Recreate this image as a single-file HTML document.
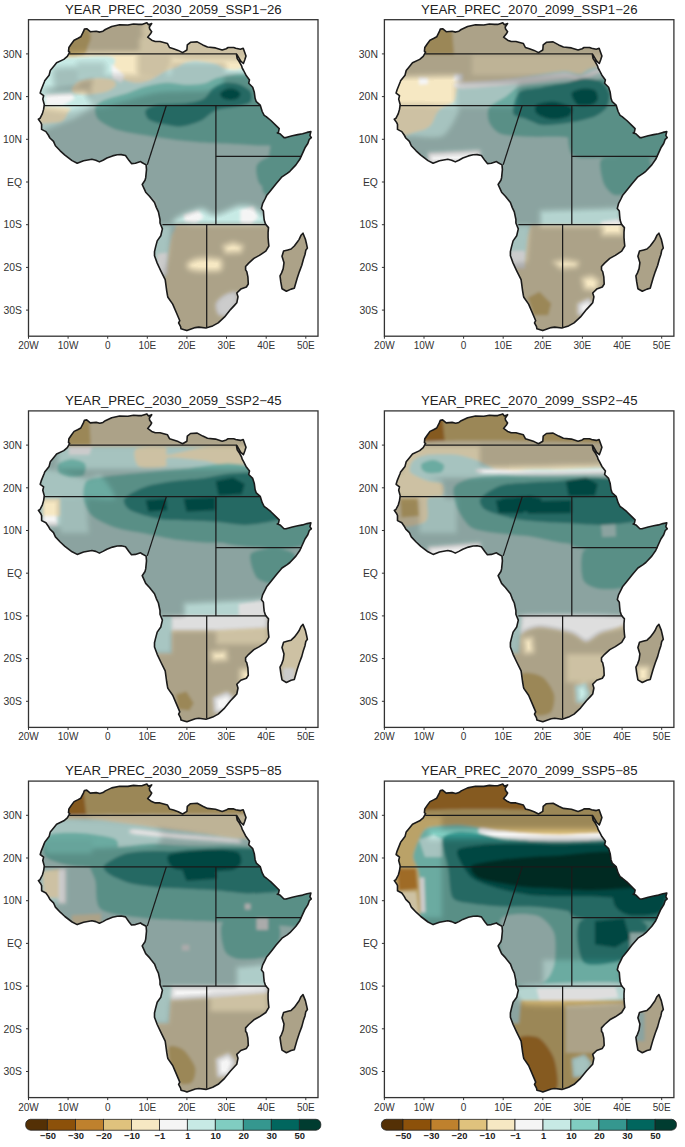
<!DOCTYPE html>
<html><head><meta charset="utf-8"><style>
html,body{margin:0;padding:0;background:#fff;}
body{width:685px;height:1147px;overflow:hidden;}
svg{display:block;font-family:"Liberation Sans",sans-serif;}
</style></head><body>
<svg width="685" height="1147" viewBox="0 0 685 1147">
<defs>
<clipPath id="land"><path d="M55.9 9.4L58.2 9.0L61.8 12.0L67.7 11.5L71.3 12.4L74.5 11.5L76.8 9.8L83.2 6.8L91.1 5.1L99.4 5.3L105.0 4.3L110.1 4.7L113.3 4.7L118.4 3.0L120.0 5.1L123.2 3.8L120.8 7.3L121.2 9.4L123.2 12.0L122.0 14.1L119.2 17.5L123.2 20.5L126.8 21.8L131.5 21.8L139.0 23.9L141.0 27.8L145.0 29.0L149.7 30.7L154.1 32.9L158.4 30.3L158.8 25.2L162.0 22.6L168.7 22.2L174.3 25.2L179.0 27.3L187.0 28.2L193.7 30.3L197.7 29.0L199.6 27.8L205.2 27.8L207.2 28.6L211.9 29.5L214.7 28.6L217.5 36.3L216.3 40.1L214.9 43.8L212.3 41.4L208.3 34.6L208.0 35.0L208.7 38.9L210.7 41.8L213.1 46.1L213.7 48.3L215.1 50.8L217.5 55.5L221.0 60.2L220.2 63.6L224.2 67.5L225.8 72.6L226.6 78.6L227.8 82.0L231.7 85.4L233.7 91.8L235.7 95.6L237.7 96.9L242.4 100.8L248.4 106.7L250.7 108.9L249.9 112.7L248.8 113.2L251.5 114.0L255.5 117.9L257.5 117.9L263.8 116.1L269.3 114.9L274.1 114.0L278.5 112.7L282.4 111.9L281.4 115.7L282.8 117.9L280.8 119.6L279.3 123.8L276.5 128.1L271.3 139.6L267.4 145.2L261.4 151.6L258.7 153.7L253.5 157.1L247.6 164.0L243.6 169.1L241.2 172.1L238.1 175.9L236.5 179.3L234.1 184.0L232.9 188.7L234.9 191.3L235.3 196.4L235.7 200.3L236.9 204.1L238.5 206.2L240.0 207.9L239.6 212.6L239.6 217.8L240.0 222.9L240.4 226.3L237.3 231.4L230.9 235.7L225.4 238.7L220.2 243.4L217.1 246.8L217.1 250.2L218.3 251.9L219.4 257.1L219.8 264.3L217.9 267.3L212.3 269.4L208.3 273.3L209.5 277.1L208.3 283.1L206.4 285.2L202.0 289.9L196.1 297.2L189.7 303.2L184.2 306.2L180.6 307.4L177.5 308.3L170.3 307.4L166.8 307.9L158.4 310.9L155.7 310.0L152.5 309.1L152.1 307.0L150.1 303.2L151.3 301.0L147.7 292.5L144.2 284.4L139.4 277.5L139.0 275.8L138.2 271.1L136.7 260.0L132.3 251.1L128.7 243.4L126.0 236.1L126.0 231.9L127.1 227.2L128.7 221.2L132.3 216.1L133.9 209.2L131.5 203.3L131.5 199.8L129.9 192.1L127.9 187.9L126.0 182.8L122.8 178.9L121.2 176.8L117.2 172.5L113.7 164.8L116.5 160.6L117.2 158.0L118.0 149.9L117.6 145.2L112.9 142.6L112.1 141.8L106.9 143.5L103.0 143.9L100.6 140.9L97.0 135.8L92.7 134.9L88.7 135.1L84.0 136.2L78.4 138.3L74.5 140.5L70.9 142.2L67.3 140.5L63.4 139.6L55.1 141.1L48.7 143.5L43.6 140.9L36.4 135.4L31.7 131.1L26.9 126.0L25.0 121.7L21.4 118.3L19.8 115.3L17.4 111.9L13.1 109.7L13.1 104.6L12.3 102.9L9.9 99.5L11.5 98.6L13.9 93.9L15.1 89.7L15.8 85.0L14.3 79.4L15.1 76.0L11.7 73.4L12.7 70.0L15.8 62.3L16.2 61.1L20.6 55.5L21.8 50.8L25.7 46.1L28.1 43.1L35.3 39.7L38.8 36.7L41.2 32.5L40.0 31.6L40.4 27.8L42.8 24.3L45.6 20.5L49.1 18.8L52.3 17.1L54.9 12.0ZM274.5 213.5L276.9 219.5L278.1 224.6L278.9 228.4L277.3 230.6L276.5 234.8L274.9 239.5L273.3 245.5L270.9 251.9L268.6 258.8L265.8 268.6L262.6 269.4L257.9 271.6L253.5 269.0L252.3 262.2L251.5 256.2L253.1 253.2L254.7 248.9L255.5 243.0L253.5 236.6L255.1 231.4L259.4 230.2L262.6 229.3L265.8 226.3L269.0 222.0L270.5 219.9L272.5 215.6Z"/></clipPath>
<pattern id="xh" width="2" height="2" patternUnits="userSpaceOnUse">
<rect x="0" y="0" width="1" height="1" fill="#1e2a28" fill-opacity="0.62"/>
<rect x="1" y="1" width="1" height="1" fill="#1e2a28" fill-opacity="0.62"/>
</pattern>
<pattern id="sh" width="3" height="3" patternUnits="userSpaceOnUse" patternTransform="rotate(-45)">
<rect x="0" y="0" width="3" height="1" fill="#2a2a2a" fill-opacity="0.55"/>
</pattern>
<filter id="bl" x="-5%" y="-5%" width="110%" height="110%"><feGaussianBlur stdDeviation="1.8"/></filter>
<filter id="bl2" x="-5%" y="-5%" width="110%" height="110%"><feGaussianBlur stdDeviation="2.5"/></filter>
</defs>
<rect width="685" height="1147" fill="#fff"/>

<g transform="translate(28.5 19.7)">
<g clip-path="url(#land)">
<rect x="0" y="0" width="289.5" height="316.5" fill="#f5f5f5"/>
<g filter="url(#bl)">
<path d="M-0.5 36.8C10.4 -1.2 70.0 35.0 81.3 36.8C92.5 38.5 82.6 47.0 84.2 49.9C85.7 52.9 89.8 56.9 92.9 58.7C96.0 60.4 103.6 62.9 107.5 63.1C111.4 63.3 118.2 61.7 122.1 60.2C126.1 58.6 133.7 53.1 137.3 51.4C140.9 49.6 146.3 48.2 149.0 47.0C151.7 45.8 155.0 43.4 157.7 42.6C160.5 41.9 165.5 41.0 169.4 41.2C173.3 41.4 183.4 43.1 186.9 44.1C190.4 45.1 193.0 47.7 195.7 48.5C198.4 49.3 204.7 50.1 207.4 49.9C210.1 49.7 212.7 47.8 216.1 47.0C219.6 46.2 226.9 44.5 233.1 44.1C239.2 43.7 258.4 7.1 262.3 44.1C266.2 81.1 297.3 284.5 262.3 321.5C227.2 358.5 34.5 359.4 -0.5 321.5C-35.5 283.5 -11.4 74.8 -0.5 36.8Z" fill="#c7eae5"/>
<path d="M-0.5 0.3C34.5 -4.6 227.2 -4.8 262.3 0.3C297.3 5.4 267.6 32.8 262.3 38.3C256.9 43.7 228.1 40.0 222.0 41.2C215.8 42.3 218.1 45.8 216.1 47.0C214.2 48.2 210.1 49.7 207.4 49.9C204.7 50.1 198.4 49.3 195.7 48.5C193.0 47.7 190.4 45.1 186.9 44.1C183.4 43.1 173.3 41.4 169.4 41.2C165.5 41.0 160.5 41.9 157.7 42.6C155.0 43.4 151.7 45.8 149.0 47.0C146.3 48.2 140.9 49.6 137.3 51.4C133.7 53.1 126.1 58.6 122.1 60.2C118.2 61.7 111.4 63.3 107.5 63.1C103.6 62.9 96.0 60.4 92.9 58.7C89.8 56.9 85.7 52.9 84.2 49.9C82.6 47.0 92.5 38.5 81.3 36.8C70.0 35.0 10.4 41.7 -0.5 36.8C-11.4 31.9 -35.5 5.2 -0.5 0.3Z" fill="#f6e8c3"/>
<path d="M43.3 68.9C43.9 67.3 47.5 63.0 50.6 61.6C53.7 60.3 62.2 58.9 66.7 58.7C71.1 58.5 81.4 59.2 84.2 60.2C86.9 61.1 87.9 64.4 87.1 66.0C86.3 67.6 81.8 70.7 78.3 71.8C74.8 73.0 65.1 74.5 60.8 74.8C56.5 75.0 48.6 74.7 46.2 73.9C43.9 73.1 42.7 70.5 43.3 68.9Z" fill="#f6e8c3"/>
<path d="M5.3 87.9C10.0 85.9 35.9 87.1 40.4 87.9C44.9 88.7 39.7 92.0 38.9 93.7C38.1 95.5 36.3 99.8 34.5 101.0C32.8 102.3 29.7 102.8 25.8 103.1C21.9 103.3 8.1 105.1 5.3 103.1C2.6 101.0 0.7 89.9 5.3 87.9Z" fill="#f6e8c3"/>
<path d="M31.6 12.0C35.1 8.6 53.8 8.3 57.9 9.1C62.0 9.8 62.1 15.5 62.3 17.8C62.5 20.2 60.3 24.3 59.4 26.6C58.4 28.8 58.7 33.7 55.0 34.8C51.3 35.8 34.7 37.8 31.6 34.8C28.5 31.7 28.1 15.4 31.6 12.0Z" fill="#dfc27d"/>
<path d="M17.0 74.8L43.3 73.3L46.2 79.1L34.5 85.6L17.0 85.6Z" fill="#f5f5f5"/>
<path d="M82.7 44.1L95.9 55.8L92.9 63.1L84.2 58.7Z" fill="#f5f5f5"/>
<path d="M52.1 187.2C55.9 184.0 77.7 176.7 87.1 175.5C96.4 174.3 117.1 176.5 122.1 178.4C127.2 180.3 129.7 188.1 125.0 190.1C120.4 192.0 96.0 191.8 87.1 193.0C78.1 194.2 62.6 199.6 57.9 198.8C53.2 198.1 48.2 190.3 52.1 187.2Z" fill="#f5f5f5"/>
<path d="M66.7 87.9C67.4 85.4 71.1 82.5 75.4 80.6C79.8 78.6 93.8 75.1 99.4 73.3C104.9 71.5 111.8 68.2 116.9 66.9C121.9 65.5 131.9 63.3 137.3 63.1C142.8 62.8 152.7 65.0 157.7 65.1C162.8 65.2 171.4 64.8 175.3 63.9C179.2 63.1 183.4 59.8 186.9 58.7C190.4 57.6 197.7 56.4 201.5 55.8C205.4 55.2 213.0 53.9 216.1 54.3C219.3 54.7 222.6 57.3 224.9 58.7C227.2 60.1 230.0 63.0 233.1 64.5C236.1 66.1 243.8 67.3 247.7 70.4C251.6 73.5 260.3 80.9 262.3 87.9C264.2 94.9 266.2 117.9 262.3 122.9C258.4 128.0 240.9 125.7 233.1 125.8C225.3 126.0 211.7 124.8 203.9 124.4C196.1 124.0 182.5 123.5 174.7 122.9C166.9 122.3 153.3 121.0 145.5 120.0C137.7 119.0 124.1 117.0 116.3 115.6C108.5 114.3 93.3 111.9 87.1 109.8C80.9 107.6 72.3 102.5 69.6 99.6C66.8 96.7 65.9 90.4 66.7 87.9Z" fill="#80cdc1"/>
<path d="M245.5 114.2C248.6 110.3 257.9 111.6 263.0 111.2C268.1 110.9 281.1 108.1 283.4 111.2C285.8 114.4 282.9 127.6 280.5 134.6C278.2 141.6 270.6 158.0 265.9 163.8C261.3 169.6 249.8 177.6 245.5 178.4C241.2 179.2 234.6 174.7 233.8 169.6C233.0 164.6 238.1 147.8 239.6 140.4C241.2 133.0 242.4 118.1 245.5 114.2Z" fill="#80cdc1"/>
<path d="M98.8 87.9C101.4 85.8 113.9 80.9 119.8 79.1C125.7 77.4 136.9 75.3 143.1 74.8C149.4 74.2 161.1 75.6 166.5 74.8C172.0 73.9 180.1 69.4 184.0 68.0C187.9 66.7 191.8 65.0 195.7 64.5C199.6 64.1 208.9 63.8 213.2 64.5C217.5 65.3 225.6 68.4 227.8 70.4C230.1 72.3 231.8 75.6 230.2 79.1C228.5 82.6 221.3 93.1 215.6 96.7C209.8 100.2 194.7 103.9 186.9 105.4C179.2 107.0 165.1 108.1 157.7 108.3C150.4 108.5 137.8 107.8 131.5 106.9C125.2 105.9 114.6 102.6 110.4 101.0C106.3 99.5 101.8 96.9 100.2 95.2C98.7 93.4 96.2 90.0 98.8 87.9Z" fill="#80cdc1"/>
<path d="M228.0 146.3C229.1 142.8 235.0 138.7 239.6 137.5C244.3 136.4 259.1 136.4 263.0 137.5C266.9 138.7 268.8 142.8 268.8 146.3C268.8 149.8 266.1 160.3 263.0 163.8C259.9 167.3 249.8 172.6 245.5 172.6C241.2 172.6 233.2 167.3 230.9 163.8C228.6 160.3 226.8 149.8 228.0 146.3Z" fill="#80cdc1"/>
<path d="M251.3 120.0C252.9 118.1 259.1 116.6 263.0 115.6C266.9 114.7 278.4 111.3 280.5 112.7C282.7 114.1 281.4 122.9 279.1 125.8C276.7 128.8 266.7 134.0 263.0 134.6C259.3 135.2 252.9 132.2 251.3 130.2C249.8 128.3 249.8 122.0 251.3 120.0Z" fill="#80cdc1"/>
<path d="M117.0 90.8C118.2 88.9 123.2 85.9 128.7 85.0C134.1 84.0 151.7 84.3 157.9 83.5C164.1 82.7 171.9 81.1 175.4 79.1C178.9 77.2 181.4 71.1 184.2 68.9C186.9 66.8 192.3 63.7 195.9 63.1C199.4 62.5 206.9 63.4 210.4 64.5C214.0 65.7 220.6 69.5 222.1 71.8C223.7 74.2 223.7 80.1 222.1 82.1C220.6 84.0 215.1 85.3 210.4 86.4C205.8 87.6 192.2 88.9 187.1 90.8C182.0 92.8 177.2 98.9 172.5 101.0C167.8 103.2 157.5 106.5 152.1 106.9C146.6 107.3 135.9 104.9 131.6 103.9C127.3 103.0 121.9 101.3 119.9 99.6C118.0 97.8 115.9 92.8 117.0 90.8Z" fill="#35978f"/>
<path d="M191.5 73.9C192.0 72.6 196.2 69.8 198.2 69.2C200.1 68.6 204.2 68.7 206.1 69.2C207.9 69.8 211.4 72.0 211.9 73.3C212.4 74.5 210.9 77.6 209.6 78.5C208.2 79.5 203.7 80.3 201.7 80.3C199.7 80.3 195.8 79.4 194.4 78.5C193.0 77.7 191.0 75.1 191.5 73.9Z" fill="#01665e"/>
<path d="M152.1 193.3C154.4 191.2 162.0 189.3 166.7 188.9C171.3 188.5 181.3 190.8 187.1 190.4C192.9 190.0 205.4 187.4 210.4 186.0C215.5 184.6 221.5 180.5 225.0 180.2C228.6 179.8 234.8 179.8 236.7 183.1C238.7 186.4 251.3 202.1 239.6 205.0C228.0 207.9 160.8 206.5 149.1 205.0C137.5 203.4 149.7 195.4 152.1 193.3Z" fill="#c7eae5"/>
<path d="M155.0 194.8L169.6 190.4L175.4 197.7L166.7 203.5L156.4 202.1Z" fill="#f5f5f5"/>
<path d="M211.9 190.4L225.0 186.0L229.4 197.7L222.1 205.0L211.9 203.5Z" fill="#f5f5f5"/>
<path d="M99.5 205.0L251.3 205.0L251.3 324.7L99.5 324.7Z" fill="#f6e8c3"/>
<path d="M245.5 207.9L299.5 207.9L299.5 283.8L245.5 283.8Z" fill="#f6e8c3"/>
<path d="M117.0 205.0C120.9 198.0 142.7 203.4 146.2 205.0C149.7 206.5 144.1 213.1 143.3 216.7C142.5 220.2 141.0 227.4 140.4 231.2C139.8 235.1 139.5 242.3 138.9 245.8C138.3 249.4 138.9 256.0 136.0 257.5C133.1 259.1 119.5 264.5 117.0 257.5C114.5 250.5 113.1 212.0 117.0 205.0Z" fill="#c7eae5"/>
<path d="M128.7 234.2L138.9 232.7L138.9 254.6L128.7 257.5Z" fill="#f5f5f5"/>
<path d="M187.1 283.8C187.9 281.1 193.1 276.6 195.9 275.0C198.6 273.5 205.8 271.0 207.5 272.1C209.3 273.3 209.8 280.7 209.0 283.8C208.2 286.9 204.2 293.9 201.7 295.5C199.2 297.0 192.0 297.0 190.0 295.5C188.1 293.9 186.3 286.5 187.1 283.8Z" fill="#f5f5f5"/>
</g>
<g filter="url(#bl)">
<path d="M157.9 242.9C159.3 241.2 164.9 237.7 169.6 237.1C174.2 236.5 189.8 236.6 192.9 238.5C196.0 240.5 195.7 249.7 192.9 251.7C190.2 253.6 177.0 253.3 172.5 253.1C168.0 253.0 161.3 251.6 159.4 250.2C157.4 248.9 156.5 244.7 157.9 242.9Z" fill="#f6e8c3"/>
<path d="M192.9 225.4L204.6 221.0L216.3 225.4L213.4 234.2L195.9 234.8Z" fill="#f6e8c3"/>
</g>
<mask id="hm0" maskUnits="userSpaceOnUse" x="0" y="0" width="289.5" height="316.5">
<g filter="url(#bl2)"><rect x="-10" y="-10" width="309.5" height="336.5" fill="#fff"/>
<path d="M-0.5 34.8C34.5 29.6 227.2 31.6 262.3 34.8C297.3 37.9 270.1 55.9 262.3 58.7C254.5 61.5 221.4 55.8 203.9 55.8C186.4 55.8 149.2 58.3 130.9 58.7C112.6 59.1 84.2 56.7 66.7 58.7C49.1 60.6 8.5 76.5 -0.5 73.3C-9.5 70.1 -35.5 39.9 -0.5 34.8Z" fill="rgb(0,0,0)"/>
<path d="M110.4 17.8L139.6 17.8L142.6 41.2L136.7 58.7L110.4 55.8Z" fill="rgb(140,140,140)"/>
<path d="M122.1 0.3C140.8 -3.6 243.6 -4.8 262.3 0.3C281.0 5.4 270.1 33.2 262.3 38.3C254.5 43.3 217.9 38.3 203.9 38.3C189.9 38.3 168.1 39.4 157.2 38.3C146.3 37.1 126.8 34.6 122.1 29.5C117.5 24.4 103.4 4.2 122.1 0.3Z" fill="rgb(140,140,140)"/>
<path d="M143.3 44.1L195.9 44.1L195.9 67.5L143.3 67.5Z" fill="rgb(140,140,140)"/>
<path d="M25.8 49.9L49.1 48.5L50.6 66.0L27.2 68.9Z" fill="rgb(153,153,153)"/>
<path d="M49.1 44.1L75.4 44.1L75.4 57.2L49.1 58.7Z" fill="rgb(115,115,115)"/>
<path d="M66.7 58.7C75.2 54.6 116.5 58.4 130.9 57.2C145.3 56.1 167.3 51.1 174.7 49.9C182.1 48.8 184.8 45.8 186.4 48.5C187.9 51.2 193.8 67.1 186.4 70.4C179.0 73.7 143.0 71.7 130.9 73.3C118.8 74.8 104.4 80.1 95.9 82.1C87.3 84.0 70.5 91.0 66.7 87.9C62.8 84.8 58.1 62.8 66.7 58.7Z" fill="rgb(140,140,140)"/>
<path d="M-0.5 73.3L57.9 70.4L66.7 87.9L43.3 93.7L-0.5 96.7Z" fill="rgb(0,0,0)"/>
<path d="M-0.5 87.9L43.3 93.7L66.7 87.9L46.2 99.6L-0.5 117.1Z" fill="rgb(140,140,140)"/>
<path d="M149.1 196.2C152.2 193.9 167.4 187.8 172.5 187.5C177.6 187.1 182.0 193.7 187.1 193.3C192.2 192.9 205.0 185.3 210.4 184.5C215.9 183.8 224.1 184.7 228.0 187.5C231.9 190.2 250.2 202.6 239.6 205.0C229.1 207.3 161.2 206.1 149.1 205.0C137.1 203.8 146.0 198.5 149.1 196.2Z" fill="rgb(0,0,0)"/>
<path d="M122.9 205.0L143.3 205.0L140.4 237.1L134.5 257.5L122.9 257.5Z" fill="rgb(140,140,140)"/>
<path d="M187.1 283.8C187.9 281.1 193.1 276.6 195.9 275.0C198.6 273.5 205.8 271.0 207.5 272.1C209.3 273.3 209.8 280.7 209.0 283.8C208.2 286.9 204.2 293.9 201.7 295.5C199.2 297.0 192.0 297.0 190.0 295.5C188.1 293.9 186.3 286.5 187.1 283.8Z" fill="rgb(140,140,140)"/>
<path d="M157.9 242.9C159.3 241.2 164.9 237.7 169.6 237.1C174.2 236.5 189.8 236.6 192.9 238.5C196.0 240.5 195.7 249.7 192.9 251.7C190.2 253.6 177.0 253.3 172.5 253.1C168.0 253.0 161.3 251.6 159.4 250.2C157.4 248.9 156.5 244.7 157.9 242.9Z" fill="#000"/>
<path d="M192.9 225.4L204.6 221.0L216.3 225.4L213.4 234.2L195.9 234.8Z" fill="#000"/>
</g></mask>
<rect x="0" y="0" width="289.5" height="316.5" fill="#000" fill-opacity="0.30" mask="url(#hm0)"/>
</g>
<path d="M55.9 9.4L58.2 9.0L61.8 12.0L67.7 11.5L71.3 12.4L74.5 11.5L76.8 9.8L83.2 6.8L91.1 5.1L99.4 5.3L105.0 4.3L110.1 4.7L113.3 4.7L118.4 3.0L120.0 5.1L123.2 3.8L120.8 7.3L121.2 9.4L123.2 12.0L122.0 14.1L119.2 17.5L123.2 20.5L126.8 21.8L131.5 21.8L139.0 23.9L141.0 27.8L145.0 29.0L149.7 30.7L154.1 32.9L158.4 30.3L158.8 25.2L162.0 22.6L168.7 22.2L174.3 25.2L179.0 27.3L187.0 28.2L193.7 30.3L197.7 29.0L199.6 27.8L205.2 27.8L207.2 28.6L211.9 29.5L214.7 28.6L217.5 36.3L216.3 40.1L214.9 43.8L212.3 41.4L208.3 34.6L208.0 35.0L208.7 38.9L210.7 41.8L213.1 46.1L213.7 48.3L215.1 50.8L217.5 55.5L221.0 60.2L220.2 63.6L224.2 67.5L225.8 72.6L226.6 78.6L227.8 82.0L231.7 85.4L233.7 91.8L235.7 95.6L237.7 96.9L242.4 100.8L248.4 106.7L250.7 108.9L249.9 112.7L248.8 113.2L251.5 114.0L255.5 117.9L257.5 117.9L263.8 116.1L269.3 114.9L274.1 114.0L278.5 112.7L282.4 111.9L281.4 115.7L282.8 117.9L280.8 119.6L279.3 123.8L276.5 128.1L271.3 139.6L267.4 145.2L261.4 151.6L258.7 153.7L253.5 157.1L247.6 164.0L243.6 169.1L241.2 172.1L238.1 175.9L236.5 179.3L234.1 184.0L232.9 188.7L234.9 191.3L235.3 196.4L235.7 200.3L236.9 204.1L238.5 206.2L240.0 207.9L239.6 212.6L239.6 217.8L240.0 222.9L240.4 226.3L237.3 231.4L230.9 235.7L225.4 238.7L220.2 243.4L217.1 246.8L217.1 250.2L218.3 251.9L219.4 257.1L219.8 264.3L217.9 267.3L212.3 269.4L208.3 273.3L209.5 277.1L208.3 283.1L206.4 285.2L202.0 289.9L196.1 297.2L189.7 303.2L184.2 306.2L180.6 307.4L177.5 308.3L170.3 307.4L166.8 307.9L158.4 310.9L155.7 310.0L152.5 309.1L152.1 307.0L150.1 303.2L151.3 301.0L147.7 292.5L144.2 284.4L139.4 277.5L139.0 275.8L138.2 271.1L136.7 260.0L132.3 251.1L128.7 243.4L126.0 236.1L126.0 231.9L127.1 227.2L128.7 221.2L132.3 216.1L133.9 209.2L131.5 203.3L131.5 199.8L129.9 192.1L127.9 187.9L126.0 182.8L122.8 178.9L121.2 176.8L117.2 172.5L113.7 164.8L116.5 160.6L117.2 158.0L118.0 149.9L117.6 145.2L112.9 142.6L112.1 141.8L106.9 143.5L103.0 143.9L100.6 140.9L97.0 135.8L92.7 134.9L88.7 135.1L84.0 136.2L78.4 138.3L74.5 140.5L70.9 142.2L67.3 140.5L63.4 139.6L55.1 141.1L48.7 143.5L43.6 140.9L36.4 135.4L31.7 131.1L26.9 126.0L25.0 121.7L21.4 118.3L19.8 115.3L17.4 111.9L13.1 109.7L13.1 104.6L12.3 102.9L9.9 99.5L11.5 98.6L13.9 93.9L15.1 89.7L15.8 85.0L14.3 79.4L15.1 76.0L11.7 73.4L12.7 70.0L15.8 62.3L16.2 61.1L20.6 55.5L21.8 50.8L25.7 46.1L28.1 43.1L35.3 39.7L38.8 36.7L41.2 32.5L40.0 31.6L40.4 27.8L42.8 24.3L45.6 20.5L49.1 18.8L52.3 17.1L54.9 12.0ZM274.5 213.5L276.9 219.5L278.1 224.6L278.9 228.4L277.3 230.6L276.5 234.8L274.9 239.5L273.3 245.5L270.9 251.9L268.6 258.8L265.8 268.6L262.6 269.4L257.9 271.6L253.5 269.0L252.3 262.2L251.5 256.2L253.1 253.2L254.7 248.9L255.5 243.0L253.5 236.6L255.1 231.4L259.4 230.2L262.6 229.3L265.8 226.3L269.0 222.0L270.5 219.9L272.5 215.6Z" fill="none" stroke="#1a1a1a" stroke-width="1.6" stroke-linejoin="round"/>
<path d="M40.8 34.2L208.3 34.2" fill="none" stroke="#1a1a1a" stroke-width="1.25"/>
<path d="M15.4 85.8L232.1 85.8" fill="none" stroke="#1a1a1a" stroke-width="1.25"/>
<path d="M137.8 85.8L118.8 145.0" fill="none" stroke="#1a1a1a" stroke-width="1.25"/>
<path d="M187.4 85.8L187.4 205.0" fill="none" stroke="#1a1a1a" stroke-width="1.25"/>
<path d="M187.4 136.6L273.3 136.6" fill="none" stroke="#1a1a1a" stroke-width="1.25"/>
<path d="M133.9 205.0L237.7 205.0" fill="none" stroke="#1a1a1a" stroke-width="1.25"/>
<path d="M178.2 205.0L178.2 307.4" fill="none" stroke="#1a1a1a" stroke-width="1.25"/>
<rect x="0" y="0" width="289.5" height="316.5" fill="none" stroke="#333" stroke-width="1.3"/>
<line x1="0.0" y1="316.5" x2="0.0" y2="319.0" stroke="#333" stroke-width="1"/>
<text x="0.0" y="329.5" font-size="10" text-anchor="middle" fill="#333">20W</text>
<line x1="39.6" y1="316.5" x2="39.6" y2="319.0" stroke="#333" stroke-width="1"/>
<text x="39.6" y="329.5" font-size="10" text-anchor="middle" fill="#333">10W</text>
<line x1="79.2" y1="316.5" x2="79.2" y2="319.0" stroke="#333" stroke-width="1"/>
<text x="79.2" y="329.5" font-size="10" text-anchor="middle" fill="#333">0</text>
<line x1="118.8" y1="316.5" x2="118.8" y2="319.0" stroke="#333" stroke-width="1"/>
<text x="118.8" y="329.5" font-size="10" text-anchor="middle" fill="#333">10E</text>
<line x1="158.4" y1="316.5" x2="158.4" y2="319.0" stroke="#333" stroke-width="1"/>
<text x="158.4" y="329.5" font-size="10" text-anchor="middle" fill="#333">20E</text>
<line x1="198.0" y1="316.5" x2="198.0" y2="319.0" stroke="#333" stroke-width="1"/>
<text x="198.0" y="329.5" font-size="10" text-anchor="middle" fill="#333">30E</text>
<line x1="237.7" y1="316.5" x2="237.7" y2="319.0" stroke="#333" stroke-width="1"/>
<text x="237.7" y="329.5" font-size="10" text-anchor="middle" fill="#333">40E</text>
<line x1="277.3" y1="316.5" x2="277.3" y2="319.0" stroke="#333" stroke-width="1"/>
<text x="277.3" y="329.5" font-size="10" text-anchor="middle" fill="#333">50E</text>
<line x1="-2.5" y1="34.2" x2="0" y2="34.2" stroke="#333" stroke-width="1"/>
<text x="-6.5" y="38.0" font-size="10.4" text-anchor="end" fill="#333">30N</text>
<line x1="-2.5" y1="76.9" x2="0" y2="76.9" stroke="#333" stroke-width="1"/>
<text x="-6.5" y="80.7" font-size="10.4" text-anchor="end" fill="#333">20N</text>
<line x1="-2.5" y1="119.6" x2="0" y2="119.6" stroke="#333" stroke-width="1"/>
<text x="-6.5" y="123.4" font-size="10.4" text-anchor="end" fill="#333">10N</text>
<line x1="-2.5" y1="162.3" x2="0" y2="162.3" stroke="#333" stroke-width="1"/>
<text x="-6.5" y="166.1" font-size="10.4" text-anchor="end" fill="#333">EQ</text>
<line x1="-2.5" y1="205.0" x2="0" y2="205.0" stroke="#333" stroke-width="1"/>
<text x="-6.5" y="208.8" font-size="10.4" text-anchor="end" fill="#333">10S</text>
<line x1="-2.5" y1="247.7" x2="0" y2="247.7" stroke="#333" stroke-width="1"/>
<text x="-6.5" y="251.5" font-size="10.4" text-anchor="end" fill="#333">20S</text>
<line x1="-2.5" y1="290.4" x2="0" y2="290.4" stroke="#333" stroke-width="1"/>
<text x="-6.5" y="294.2" font-size="10.4" text-anchor="end" fill="#333">30S</text>
<text x="144.8" y="-6" font-size="12.2" text-anchor="middle" fill="#222" textLength="216.6" lengthAdjust="spacingAndGlyphs">YEAR_PREC_2030_2059_SSP1−26</text>
</g>
<g transform="translate(384.4 19.7)">
<g clip-path="url(#land)">
<rect x="0" y="0" width="289.5" height="316.5" fill="#f5f5f5"/>
<g filter="url(#bl)">
<path d="M-0.4 0.3L291.6 0.3L291.6 321.5L-0.4 321.5Z" fill="#c7eae5"/>
<path d="M-0.4 0.3C38.5 -14.5 252.6 -5.5 291.6 0.3C330.5 6.1 302.0 37.9 291.6 44.1C281.1 50.3 226.1 45.7 213.3 47.0C200.6 48.4 200.1 53.7 195.8 54.3C191.5 54.9 186.3 51.4 181.2 51.4C176.1 51.4 164.9 53.3 157.8 54.3C150.8 55.3 136.4 57.7 128.7 58.7C120.9 59.7 106.5 60.8 99.5 61.6C92.4 62.4 79.1 63.4 75.5 64.5C71.9 65.7 73.4 68.0 72.6 70.4C71.8 72.7 71.6 79.7 69.7 82.1C67.7 84.4 60.3 86.3 58.0 87.9C55.7 89.4 53.7 91.4 52.2 93.7C50.6 96.1 48.7 103.1 46.3 105.4C44.0 107.7 40.9 110.5 34.6 111.2C28.4 112.0 4.3 126.0 -0.4 111.2C-5.1 96.5 -39.3 15.1 -0.4 0.3Z" fill="#f6e8c3"/>
<path d="M-0.4 0.3L66.8 0.3L69.7 34.8L-0.4 34.8Z" fill="#dfc27d"/>
<path d="M34.6 57.2L43.4 58.1L43.4 64.5L34.6 65.1Z" fill="#f5f5f5"/>
<path d="M69.7 54.3L78.4 54.3L78.4 61.6L69.7 61.6Z" fill="#f5f5f5"/>
<path d="M72.6 63.1C78.0 61.9 105.0 61.1 116.4 60.2C127.8 59.2 149.2 56.7 157.8 55.8C166.5 54.9 176.1 53.4 181.2 53.4C186.3 53.5 191.5 56.9 195.8 56.4C200.1 55.8 210.7 49.8 213.3 49.4C216.0 48.9 218.0 51.4 215.7 52.9C213.3 54.3 200.4 59.4 195.8 60.2C191.2 60.9 186.3 58.5 181.2 58.7C176.1 58.9 166.5 60.6 157.8 61.6C149.2 62.6 127.4 65.0 116.4 66.0C105.4 67.0 81.4 69.3 75.5 68.9C69.7 68.5 67.1 64.2 72.6 63.1Z" fill="#f5f5f5"/>
<path d="M104.7 87.9C107.0 84.4 118.3 78.9 122.2 76.2C126.1 73.5 129.2 69.0 133.9 67.5C138.7 65.9 152.4 65.1 157.8 64.5C163.3 63.9 168.6 63.5 174.8 63.1C180.9 62.7 197.8 62.2 204.0 61.6C210.2 61.0 217.6 58.3 221.5 58.7C225.4 59.1 227.7 62.6 233.2 64.5C238.6 66.5 256.5 70.2 262.4 73.3C268.2 76.4 274.6 82.1 277.0 87.9C279.3 93.7 285.7 112.4 279.9 117.1C274.1 121.8 243.3 122.5 233.2 122.9C223.1 123.3 211.8 120.8 204.0 120.0C196.2 119.2 182.6 117.5 174.8 117.1C167.0 116.7 153.4 117.5 145.6 117.1C137.8 116.7 121.8 116.1 116.4 114.2C110.9 112.2 106.3 106.0 104.7 102.5C103.2 99.0 102.4 91.4 104.7 87.9Z" fill="#80cdc1"/>
<path d="M187.2 87.9C191.9 81.3 214.4 83.4 222.2 85.0C230.0 86.5 240.1 96.1 245.6 99.6C251.0 103.1 258.0 109.7 263.1 111.2C268.2 112.8 282.0 107.7 283.5 111.2C285.1 114.8 282.6 134.0 274.8 137.5C267.0 141.0 236.8 137.9 225.1 137.5C213.5 137.1 192.3 141.2 187.2 134.6C182.1 128.0 182.5 94.5 187.2 87.9Z" fill="#80cdc1"/>
<path d="M134.6 73.3C138.5 69.8 151.8 68.8 158.0 67.5C164.2 66.1 175.9 64.2 181.4 63.1C186.8 61.9 194.2 58.9 198.9 58.7C203.5 58.5 212.9 59.7 216.4 61.6C219.9 63.6 224.4 69.8 225.1 73.3C225.9 76.8 224.2 84.8 222.2 87.9C220.3 91.0 215.2 94.7 210.5 96.7C205.9 98.6 194.2 101.3 187.2 102.5C180.2 103.7 163.8 105.8 158.0 105.4C152.2 105.0 147.3 101.1 143.4 99.6C139.5 98.0 130.0 97.2 128.8 93.7C127.6 90.2 130.7 76.8 134.6 73.3Z" fill="#35978f"/>
<path d="M133.9 73.3C135.9 70.0 146.8 69.3 151.4 68.9C156.1 68.5 165.8 67.8 168.9 70.4C172.1 72.9 175.6 83.6 174.8 87.9C174.0 92.2 167.0 100.7 163.1 102.5C159.2 104.2 149.1 102.2 145.6 101.0C142.1 99.9 138.4 97.4 136.8 93.7C135.3 90.0 132.0 76.6 133.9 73.3Z" fill="#35978f"/>
<path d="M216.4 140.4C218.7 136.9 230.6 137.9 236.8 137.5C243.1 137.1 259.2 135.6 263.1 137.5C267.0 139.5 267.6 147.8 266.0 152.1C264.5 156.4 256.1 166.5 251.4 169.6C246.8 172.8 235.3 176.3 231.0 175.5C226.7 174.7 221.3 168.5 219.3 163.8C217.4 159.1 214.1 143.9 216.4 140.4Z" fill="#80cdc1"/>
<path d="M187.2 73.3C188.0 71.2 195.8 69.3 198.9 68.9C202.0 68.5 208.6 69.0 210.5 70.4C212.5 71.7 213.9 77.2 213.5 79.1C213.1 81.1 210.4 84.2 207.6 85.0C204.9 85.8 195.8 86.5 193.0 85.0C190.3 83.4 186.4 75.4 187.2 73.3Z" fill="#01665e"/>
<path d="M152.2 85.0C154.5 83.4 165.0 81.7 169.7 82.1C174.3 82.4 185.2 85.9 187.2 87.9C189.1 89.8 187.0 95.1 184.3 96.7C181.5 98.2 171.0 100.0 166.8 99.6C162.5 99.2 154.1 95.7 152.2 93.7C150.2 91.8 149.8 86.5 152.2 85.0Z" fill="#01665e"/>
<path d="M216.4 202.1L236.8 199.1L239.7 216.7L216.4 216.7Z" fill="#f5f5f5"/>
<path d="M43.4 133.1L96.0 130.2L96.0 143.4L43.4 144.8Z" fill="#f5f5f5"/>
<path d="M99.6 205.0L251.4 205.0L251.4 324.7L99.6 324.7Z" fill="#f6e8c3"/>
<path d="M245.6 207.9L299.6 207.9L299.6 283.8L245.6 283.8Z" fill="#f6e8c3"/>
<path d="M117.1 205.0L146.3 205.0L143.4 216.7L140.5 242.9L117.1 245.8Z" fill="#c7eae5"/>
<path d="M125.9 231.2L140.5 231.2L140.5 248.8L125.9 248.8Z" fill="#f5f5f5"/>
<path d="M143.4 278.0L155.1 272.1L166.8 283.8L163.8 295.5L149.2 295.5Z" fill="#dfc27d"/>
<path d="M193.0 283.8L204.7 278.0L210.5 286.7L201.8 295.5L193.0 295.5Z" fill="#f5f5f5"/>
</g>
<g filter="url(#bl)">
<path d="M166.8 241.5L181.4 238.5L196.0 241.5L193.0 248.8L175.5 250.2Z" fill="#f6e8c3"/>
<path d="M196.0 257.5L207.6 254.6L216.4 260.4L213.5 272.1L198.9 270.7Z" fill="#f6e8c3"/>
</g>
<mask id="hm1" maskUnits="userSpaceOnUse" x="0" y="0" width="289.5" height="316.5">
<g filter="url(#bl2)"><rect x="-10" y="-10" width="309.5" height="336.5" fill="#fff"/>
<path d="M87.2 34.8L291.6 34.8L291.6 55.8L87.2 55.8Z" fill="rgb(191,191,191)"/>
<path d="M-0.4 55.8L75.5 54.3L75.5 87.9L-0.4 87.9Z" fill="rgb(0,0,0)"/>
<path d="M72.6 63.1L133.9 63.1L133.9 87.9L72.6 87.9Z" fill="rgb(140,140,140)"/>
<path d="M-0.4 87.9C8.9 84.4 59.9 86.7 69.7 87.9C79.4 89.1 74.1 92.8 72.6 96.7C71.0 100.5 63.8 114.4 58.0 117.1C52.2 119.8 36.6 117.5 28.8 117.1C21.0 116.7 3.5 118.1 -0.4 114.2C-4.3 110.3 -9.7 91.4 -0.4 87.9Z" fill="rgb(140,140,140)"/>
<path d="M155.1 190.4L236.8 187.5L236.8 207.9L155.1 207.9Z" fill="rgb(76,76,76)"/>
<path d="M216.4 203.5L239.7 200.6L239.7 216.7L216.4 216.7Z" fill="rgb(0,0,0)"/>
<path d="M117.1 205.0L146.3 205.0L143.4 242.9L117.1 245.8Z" fill="rgb(140,140,140)"/>
<path d="M43.4 133.1L96.0 130.2L96.0 143.4L43.4 144.8Z" fill="rgb(0,0,0)"/>
<path d="M193.0 283.8L204.7 278.0L210.5 286.7L201.8 295.5L193.0 295.5Z" fill="rgb(0,0,0)"/>
<path d="M166.8 241.5L181.4 238.5L196.0 241.5L193.0 248.8L175.5 250.2Z" fill="#000"/>
<path d="M196.0 257.5L207.6 254.6L216.4 260.4L213.5 272.1L198.9 270.7Z" fill="#000"/>
</g></mask>
<rect x="0" y="0" width="289.5" height="316.5" fill="#000" fill-opacity="0.30" mask="url(#hm1)"/>
</g>
<path d="M55.9 9.4L58.2 9.0L61.8 12.0L67.7 11.5L71.3 12.4L74.5 11.5L76.8 9.8L83.2 6.8L91.1 5.1L99.4 5.3L105.0 4.3L110.1 4.7L113.3 4.7L118.4 3.0L120.0 5.1L123.2 3.8L120.8 7.3L121.2 9.4L123.2 12.0L122.0 14.1L119.2 17.5L123.2 20.5L126.8 21.8L131.5 21.8L139.0 23.9L141.0 27.8L145.0 29.0L149.7 30.7L154.1 32.9L158.4 30.3L158.8 25.2L162.0 22.6L168.7 22.2L174.3 25.2L179.0 27.3L187.0 28.2L193.7 30.3L197.7 29.0L199.6 27.8L205.2 27.8L207.2 28.6L211.9 29.5L214.7 28.6L217.5 36.3L216.3 40.1L214.9 43.8L212.3 41.4L208.3 34.6L208.0 35.0L208.7 38.9L210.7 41.8L213.1 46.1L213.7 48.3L215.1 50.8L217.5 55.5L221.0 60.2L220.2 63.6L224.2 67.5L225.8 72.6L226.6 78.6L227.8 82.0L231.7 85.4L233.7 91.8L235.7 95.6L237.7 96.9L242.4 100.8L248.4 106.7L250.7 108.9L249.9 112.7L248.8 113.2L251.5 114.0L255.5 117.9L257.5 117.9L263.8 116.1L269.3 114.9L274.1 114.0L278.5 112.7L282.4 111.9L281.4 115.7L282.8 117.9L280.8 119.6L279.3 123.8L276.5 128.1L271.3 139.6L267.4 145.2L261.4 151.6L258.7 153.7L253.5 157.1L247.6 164.0L243.6 169.1L241.2 172.1L238.1 175.9L236.5 179.3L234.1 184.0L232.9 188.7L234.9 191.3L235.3 196.4L235.7 200.3L236.9 204.1L238.5 206.2L240.0 207.9L239.6 212.6L239.6 217.8L240.0 222.9L240.4 226.3L237.3 231.4L230.9 235.7L225.4 238.7L220.2 243.4L217.1 246.8L217.1 250.2L218.3 251.9L219.4 257.1L219.8 264.3L217.9 267.3L212.3 269.4L208.3 273.3L209.5 277.1L208.3 283.1L206.4 285.2L202.0 289.9L196.1 297.2L189.7 303.2L184.2 306.2L180.6 307.4L177.5 308.3L170.3 307.4L166.8 307.9L158.4 310.9L155.7 310.0L152.5 309.1L152.1 307.0L150.1 303.2L151.3 301.0L147.7 292.5L144.2 284.4L139.4 277.5L139.0 275.8L138.2 271.1L136.7 260.0L132.3 251.1L128.7 243.4L126.0 236.1L126.0 231.9L127.1 227.2L128.7 221.2L132.3 216.1L133.9 209.2L131.5 203.3L131.5 199.8L129.9 192.1L127.9 187.9L126.0 182.8L122.8 178.9L121.2 176.8L117.2 172.5L113.7 164.8L116.5 160.6L117.2 158.0L118.0 149.9L117.6 145.2L112.9 142.6L112.1 141.8L106.9 143.5L103.0 143.9L100.6 140.9L97.0 135.8L92.7 134.9L88.7 135.1L84.0 136.2L78.4 138.3L74.5 140.5L70.9 142.2L67.3 140.5L63.4 139.6L55.1 141.1L48.7 143.5L43.6 140.9L36.4 135.4L31.7 131.1L26.9 126.0L25.0 121.7L21.4 118.3L19.8 115.3L17.4 111.9L13.1 109.7L13.1 104.6L12.3 102.9L9.9 99.5L11.5 98.6L13.9 93.9L15.1 89.7L15.8 85.0L14.3 79.4L15.1 76.0L11.7 73.4L12.7 70.0L15.8 62.3L16.2 61.1L20.6 55.5L21.8 50.8L25.7 46.1L28.1 43.1L35.3 39.7L38.8 36.7L41.2 32.5L40.0 31.6L40.4 27.8L42.8 24.3L45.6 20.5L49.1 18.8L52.3 17.1L54.9 12.0ZM274.5 213.5L276.9 219.5L278.1 224.6L278.9 228.4L277.3 230.6L276.5 234.8L274.9 239.5L273.3 245.5L270.9 251.9L268.6 258.8L265.8 268.6L262.6 269.4L257.9 271.6L253.5 269.0L252.3 262.2L251.5 256.2L253.1 253.2L254.7 248.9L255.5 243.0L253.5 236.6L255.1 231.4L259.4 230.2L262.6 229.3L265.8 226.3L269.0 222.0L270.5 219.9L272.5 215.6Z" fill="none" stroke="#1a1a1a" stroke-width="1.6" stroke-linejoin="round"/>
<path d="M40.8 34.2L208.3 34.2" fill="none" stroke="#1a1a1a" stroke-width="1.25"/>
<path d="M15.4 85.8L232.1 85.8" fill="none" stroke="#1a1a1a" stroke-width="1.25"/>
<path d="M137.8 85.8L118.8 145.0" fill="none" stroke="#1a1a1a" stroke-width="1.25"/>
<path d="M187.4 85.8L187.4 205.0" fill="none" stroke="#1a1a1a" stroke-width="1.25"/>
<path d="M187.4 136.6L273.3 136.6" fill="none" stroke="#1a1a1a" stroke-width="1.25"/>
<path d="M133.9 205.0L237.7 205.0" fill="none" stroke="#1a1a1a" stroke-width="1.25"/>
<path d="M178.2 205.0L178.2 307.4" fill="none" stroke="#1a1a1a" stroke-width="1.25"/>
<rect x="0" y="0" width="289.5" height="316.5" fill="none" stroke="#333" stroke-width="1.3"/>
<line x1="0.0" y1="316.5" x2="0.0" y2="319.0" stroke="#333" stroke-width="1"/>
<text x="0.0" y="329.5" font-size="10" text-anchor="middle" fill="#333">20W</text>
<line x1="39.6" y1="316.5" x2="39.6" y2="319.0" stroke="#333" stroke-width="1"/>
<text x="39.6" y="329.5" font-size="10" text-anchor="middle" fill="#333">10W</text>
<line x1="79.2" y1="316.5" x2="79.2" y2="319.0" stroke="#333" stroke-width="1"/>
<text x="79.2" y="329.5" font-size="10" text-anchor="middle" fill="#333">0</text>
<line x1="118.8" y1="316.5" x2="118.8" y2="319.0" stroke="#333" stroke-width="1"/>
<text x="118.8" y="329.5" font-size="10" text-anchor="middle" fill="#333">10E</text>
<line x1="158.4" y1="316.5" x2="158.4" y2="319.0" stroke="#333" stroke-width="1"/>
<text x="158.4" y="329.5" font-size="10" text-anchor="middle" fill="#333">20E</text>
<line x1="198.0" y1="316.5" x2="198.0" y2="319.0" stroke="#333" stroke-width="1"/>
<text x="198.0" y="329.5" font-size="10" text-anchor="middle" fill="#333">30E</text>
<line x1="237.7" y1="316.5" x2="237.7" y2="319.0" stroke="#333" stroke-width="1"/>
<text x="237.7" y="329.5" font-size="10" text-anchor="middle" fill="#333">40E</text>
<line x1="277.3" y1="316.5" x2="277.3" y2="319.0" stroke="#333" stroke-width="1"/>
<text x="277.3" y="329.5" font-size="10" text-anchor="middle" fill="#333">50E</text>
<line x1="-2.5" y1="34.2" x2="0" y2="34.2" stroke="#333" stroke-width="1"/>
<text x="-6.5" y="38.0" font-size="10.4" text-anchor="end" fill="#333">30N</text>
<line x1="-2.5" y1="76.9" x2="0" y2="76.9" stroke="#333" stroke-width="1"/>
<text x="-6.5" y="80.7" font-size="10.4" text-anchor="end" fill="#333">20N</text>
<line x1="-2.5" y1="119.6" x2="0" y2="119.6" stroke="#333" stroke-width="1"/>
<text x="-6.5" y="123.4" font-size="10.4" text-anchor="end" fill="#333">10N</text>
<line x1="-2.5" y1="162.3" x2="0" y2="162.3" stroke="#333" stroke-width="1"/>
<text x="-6.5" y="166.1" font-size="10.4" text-anchor="end" fill="#333">EQ</text>
<line x1="-2.5" y1="205.0" x2="0" y2="205.0" stroke="#333" stroke-width="1"/>
<text x="-6.5" y="208.8" font-size="10.4" text-anchor="end" fill="#333">10S</text>
<line x1="-2.5" y1="247.7" x2="0" y2="247.7" stroke="#333" stroke-width="1"/>
<text x="-6.5" y="251.5" font-size="10.4" text-anchor="end" fill="#333">20S</text>
<line x1="-2.5" y1="290.4" x2="0" y2="290.4" stroke="#333" stroke-width="1"/>
<text x="-6.5" y="294.2" font-size="10.4" text-anchor="end" fill="#333">30S</text>
<text x="144.8" y="-6" font-size="12.2" text-anchor="middle" fill="#222" textLength="216.6" lengthAdjust="spacingAndGlyphs">YEAR_PREC_2070_2099_SSP1−26</text>
</g>
<g transform="translate(28.5 410.9)">
<g clip-path="url(#land)">
<rect x="0" y="0" width="289.5" height="316.5" fill="#f5f5f5"/>
<g filter="url(#bl)">
<path d="M-0.5 0.1L291.5 0.1L291.5 321.3L-0.5 321.3Z" fill="#c7eae5"/>
<path d="M-0.5 0.1L291.5 0.1L291.5 35.7L-0.5 35.7Z" fill="#f6e8c3"/>
<path d="M28.7 8.9L60.8 5.9L62.3 34.6L28.7 34.6Z" fill="#dfc27d"/>
<path d="M107.5 38.1C111.0 35.5 132.4 35.8 136.7 36.6C141.0 37.4 134.6 43.9 139.6 43.9C144.7 43.9 163.8 37.8 174.7 36.6C185.6 35.4 209.7 34.4 221.4 34.6C233.1 34.7 260.7 36.0 262.3 38.1C263.8 40.1 240.9 47.4 233.1 49.7C225.3 52.1 211.7 55.6 203.9 55.6C196.1 55.6 183.2 50.9 174.7 49.7C166.1 48.6 144.7 46.0 139.6 46.8C134.6 47.6 140.6 54.4 136.7 55.6C132.8 56.7 114.3 57.9 110.4 55.6C106.6 53.2 104.0 40.6 107.5 38.1Z" fill="#f6e8c3"/>
<path d="M40.4 35.7L63.7 35.7L60.8 43.9L40.4 43.9Z" fill="#f5f5f5"/>
<path d="M203.9 55.6C207.8 54.4 225.3 52.4 233.1 51.2C240.9 50.0 254.5 47.8 262.3 46.8C270.1 45.8 287.6 43.3 291.5 43.9C295.4 44.5 299.3 49.2 291.5 51.2C283.7 53.1 244.8 57.3 233.1 58.5C221.4 59.7 207.8 60.3 203.9 60.0C200.0 59.6 200.0 56.7 203.9 55.6Z" fill="#f5f5f5"/>
<path d="M30.2 52.7C31.9 50.9 39.8 48.3 43.3 48.3C46.8 48.3 54.9 50.5 56.4 52.7C58.0 54.8 57.1 62.6 55.0 64.3C52.8 66.1 43.7 66.2 40.4 65.8C37.1 65.4 31.5 63.2 30.2 61.4C28.8 59.7 28.4 54.4 30.2 52.7Z" fill="#80cdc1"/>
<path d="M57.9 70.2C60.6 67.3 69.6 66.8 75.4 65.8C81.3 64.8 94.3 63.7 101.7 62.9C109.1 62.1 122.7 60.7 130.9 60.0C139.1 59.2 153.9 58.0 163.0 57.0C172.2 56.1 190.2 52.7 199.5 52.7C208.8 52.7 224.7 56.1 233.1 57.0C241.4 58.0 254.5 59.0 262.3 60.0C270.1 60.9 283.7 60.6 291.5 64.3C299.3 68.0 320.7 79.9 320.7 87.7C320.7 95.5 299.3 117.7 291.5 122.7C283.7 127.8 270.1 124.9 262.3 125.6C254.5 126.4 240.9 127.8 233.1 128.6C225.3 129.3 211.7 131.1 203.9 131.5C196.1 131.9 182.5 131.9 174.7 131.5C166.9 131.1 153.3 129.7 145.5 128.6C137.7 127.4 124.1 124.3 116.3 122.7C108.5 121.2 94.1 119.2 87.1 116.9C80.1 114.6 68.0 109.1 63.7 105.2C59.5 101.3 55.8 92.4 55.0 87.7C54.2 83.0 55.2 73.1 57.9 70.2Z" fill="#80cdc1"/>
<path d="M187.1 87.7C192.9 82.6 220.8 87.9 230.9 90.6C241.0 93.3 256.0 105.4 263.0 108.1C270.0 110.9 281.9 107.5 283.4 111.0C285.0 114.6 280.5 130.9 274.7 134.4C268.8 137.9 251.3 138.1 239.6 137.3C228.0 136.5 194.1 135.2 187.1 128.6C180.1 121.9 181.3 92.8 187.1 87.7Z" fill="#80cdc1"/>
<path d="M222.1 143.2C224.5 139.3 239.6 137.3 245.5 137.3C251.3 137.3 263.6 139.7 265.9 143.2C268.3 146.7 265.7 159.7 263.0 163.6C260.3 167.5 250.2 172.0 245.5 172.4C240.8 172.8 231.1 170.4 228.0 166.5C224.9 162.6 219.8 147.1 222.1 143.2Z" fill="#80cdc1"/>
<path d="M95.9 87.7C97.8 84.6 109.7 78.3 116.3 76.0C122.9 73.7 137.7 71.3 145.5 70.2C153.3 69.0 167.5 68.2 174.7 67.3C181.9 66.3 191.7 63.7 199.5 62.9C207.3 62.1 224.7 61.4 233.1 61.4C241.4 61.4 255.3 61.7 262.3 62.9C269.3 64.0 281.7 66.9 285.6 70.2C289.5 73.5 292.6 83.4 291.5 87.7C290.3 92.0 282.7 99.4 276.9 102.3C271.0 105.2 255.5 108.0 247.7 109.6C239.9 111.1 226.3 113.8 218.5 114.0C210.7 114.2 197.1 111.6 189.3 111.0C181.5 110.5 167.9 110.0 160.1 109.6C152.3 109.2 138.7 109.5 130.9 108.1C123.1 106.8 106.4 102.1 101.7 99.4C97.0 96.6 93.9 90.8 95.9 87.7Z" fill="#35978f"/>
<path d="M117.0 89.2L137.5 87.7L138.9 99.4L119.9 100.8Z" fill="#01665e"/>
<path d="M155.0 87.7L187.1 86.2L187.1 99.4L157.9 100.8Z" fill="#01665e"/>
<path d="M187.1 70.2L204.6 66.7L216.3 73.1L213.4 83.3L190.0 84.8Z" fill="#01665e"/>
<path d="M14.1 87.7L31.6 87.7L31.6 105.2L14.1 105.2Z" fill="#f6e8c3"/>
<path d="M14.1 105.2L28.7 105.2L28.7 115.4L14.1 115.4Z" fill="#f5f5f5"/>
<path d="M155.0 193.1L236.7 187.3L239.6 204.8L155.0 204.8Z" fill="#c7eae5"/>
<path d="M210.4 193.1L236.7 188.7L239.6 204.8L210.4 204.8Z" fill="#f5f5f5"/>
<path d="M99.5 204.8L251.3 204.8L251.3 324.5L99.5 324.5Z" fill="#f6e8c3"/>
<path d="M245.5 207.7L299.5 207.7L299.5 283.6L245.5 283.6Z" fill="#f6e8c3"/>
<path d="M131.6 204.8L239.6 204.8L239.6 216.5L187.1 219.4L143.3 219.4Z" fill="#f5f5f5"/>
<path d="M117.0 204.8L143.3 204.8L143.3 242.7L117.0 242.7Z" fill="#c7eae5"/>
<path d="M147.7 283.6L157.9 280.7L165.2 292.4L160.8 299.7L149.1 298.2Z" fill="#dfc27d"/>
<path d="M184.2 286.5L198.8 280.7L206.1 286.5L200.2 301.1L185.6 302.6Z" fill="#f5f5f5"/>
<path d="M254.2 257.3L265.9 257.3L265.9 271.9L254.2 271.9Z" fill="#f5f5f5"/>
</g>
<g filter="url(#bl)">
<path d="M181.3 239.8L198.8 238.3L200.2 250.0L182.7 251.5Z" fill="#f6e8c3"/>
<path d="M210.4 257.3L236.7 255.9L236.7 271.9L210.4 271.9Z" fill="#f6e8c3"/>
</g>
<mask id="hm2" maskUnits="userSpaceOnUse" x="0" y="0" width="289.5" height="316.5">
<g filter="url(#bl2)"><rect x="-10" y="-10" width="309.5" height="336.5" fill="#fff"/>
<path d="M28.7 34.6L291.5 34.6L291.5 58.5L28.7 58.5Z" fill="rgb(140,140,140)"/>
<path d="M14.1 58.5C19.9 55.8 50.1 66.5 57.9 67.3C65.7 68.0 68.6 61.6 72.5 64.3C76.4 67.1 89.0 84.6 87.1 87.7C85.1 90.8 67.6 87.7 57.9 87.7C48.2 87.7 19.9 91.6 14.1 87.7C8.3 83.8 8.3 61.2 14.1 58.5Z" fill="rgb(140,140,140)"/>
<path d="M11.2 87.7L31.6 87.7L31.6 115.4L11.2 115.4Z" fill="rgb(0,0,0)"/>
<path d="M31.6 87.7L57.9 87.7L60.8 122.7L31.6 122.7Z" fill="rgb(166,166,166)"/>
<path d="M155.0 191.6L239.6 187.3L239.6 204.8L155.0 204.8Z" fill="rgb(76,76,76)"/>
<path d="M131.6 204.8L239.6 204.8L239.6 217.9L187.1 220.8L143.3 220.8Z" fill="rgb(76,76,76)"/>
<path d="M187.1 219.4L239.6 216.5L239.6 234.0L187.1 234.0Z" fill="rgb(140,140,140)"/>
<path d="M117.0 204.8L143.3 204.8L143.3 242.7L117.0 242.7Z" fill="rgb(128,128,128)"/>
<path d="M184.2 286.5L198.8 280.7L206.1 286.5L200.2 301.1L185.6 302.6Z" fill="rgb(0,0,0)"/>
<path d="M251.3 207.7L299.5 207.7L299.5 283.6L251.3 283.6Z" fill="rgb(140,140,140)"/>
<path d="M181.3 239.8L198.8 238.3L200.2 250.0L182.7 251.5Z" fill="#000"/>
<path d="M210.4 257.3L236.7 255.9L236.7 271.9L210.4 271.9Z" fill="#000"/>
</g></mask>
<rect x="0" y="0" width="289.5" height="316.5" fill="#000" fill-opacity="0.30" mask="url(#hm2)"/>
</g>
<path d="M55.9 9.4L58.2 9.0L61.8 12.0L67.7 11.5L71.3 12.4L74.5 11.5L76.8 9.8L83.2 6.8L91.1 5.1L99.4 5.3L105.0 4.3L110.1 4.7L113.3 4.7L118.4 3.0L120.0 5.1L123.2 3.8L120.8 7.3L121.2 9.4L123.2 12.0L122.0 14.1L119.2 17.5L123.2 20.5L126.8 21.8L131.5 21.8L139.0 23.9L141.0 27.8L145.0 29.0L149.7 30.7L154.1 32.9L158.4 30.3L158.8 25.2L162.0 22.6L168.7 22.2L174.3 25.2L179.0 27.3L187.0 28.2L193.7 30.3L197.7 29.0L199.6 27.8L205.2 27.8L207.2 28.6L211.9 29.5L214.7 28.6L217.5 36.3L216.3 40.1L214.9 43.8L212.3 41.4L208.3 34.6L208.0 35.0L208.7 38.9L210.7 41.8L213.1 46.1L213.7 48.3L215.1 50.8L217.5 55.5L221.0 60.2L220.2 63.6L224.2 67.5L225.8 72.6L226.6 78.6L227.8 82.0L231.7 85.4L233.7 91.8L235.7 95.6L237.7 96.9L242.4 100.8L248.4 106.7L250.7 108.9L249.9 112.7L248.8 113.2L251.5 114.0L255.5 117.9L257.5 117.9L263.8 116.1L269.3 114.9L274.1 114.0L278.5 112.7L282.4 111.9L281.4 115.7L282.8 117.9L280.8 119.6L279.3 123.8L276.5 128.1L271.3 139.6L267.4 145.2L261.4 151.6L258.7 153.7L253.5 157.1L247.6 164.0L243.6 169.1L241.2 172.1L238.1 175.9L236.5 179.3L234.1 184.0L232.9 188.7L234.9 191.3L235.3 196.4L235.7 200.3L236.9 204.1L238.5 206.2L240.0 207.9L239.6 212.6L239.6 217.8L240.0 222.9L240.4 226.3L237.3 231.4L230.9 235.7L225.4 238.7L220.2 243.4L217.1 246.8L217.1 250.2L218.3 251.9L219.4 257.1L219.8 264.3L217.9 267.3L212.3 269.4L208.3 273.3L209.5 277.1L208.3 283.1L206.4 285.2L202.0 289.9L196.1 297.2L189.7 303.2L184.2 306.2L180.6 307.4L177.5 308.3L170.3 307.4L166.8 307.9L158.4 310.9L155.7 310.0L152.5 309.1L152.1 307.0L150.1 303.2L151.3 301.0L147.7 292.5L144.2 284.4L139.4 277.5L139.0 275.8L138.2 271.1L136.7 260.0L132.3 251.1L128.7 243.4L126.0 236.1L126.0 231.9L127.1 227.2L128.7 221.2L132.3 216.1L133.9 209.2L131.5 203.3L131.5 199.8L129.9 192.1L127.9 187.9L126.0 182.8L122.8 178.9L121.2 176.8L117.2 172.5L113.7 164.8L116.5 160.6L117.2 158.0L118.0 149.9L117.6 145.2L112.9 142.6L112.1 141.8L106.9 143.5L103.0 143.9L100.6 140.9L97.0 135.8L92.7 134.9L88.7 135.1L84.0 136.2L78.4 138.3L74.5 140.5L70.9 142.2L67.3 140.5L63.4 139.6L55.1 141.1L48.7 143.5L43.6 140.9L36.4 135.4L31.7 131.1L26.9 126.0L25.0 121.7L21.4 118.3L19.8 115.3L17.4 111.9L13.1 109.7L13.1 104.6L12.3 102.9L9.9 99.5L11.5 98.6L13.9 93.9L15.1 89.7L15.8 85.0L14.3 79.4L15.1 76.0L11.7 73.4L12.7 70.0L15.8 62.3L16.2 61.1L20.6 55.5L21.8 50.8L25.7 46.1L28.1 43.1L35.3 39.7L38.8 36.7L41.2 32.5L40.0 31.6L40.4 27.8L42.8 24.3L45.6 20.5L49.1 18.8L52.3 17.1L54.9 12.0ZM274.5 213.5L276.9 219.5L278.1 224.6L278.9 228.4L277.3 230.6L276.5 234.8L274.9 239.5L273.3 245.5L270.9 251.9L268.6 258.8L265.8 268.6L262.6 269.4L257.9 271.6L253.5 269.0L252.3 262.2L251.5 256.2L253.1 253.2L254.7 248.9L255.5 243.0L253.5 236.6L255.1 231.4L259.4 230.2L262.6 229.3L265.8 226.3L269.0 222.0L270.5 219.9L272.5 215.6Z" fill="none" stroke="#1a1a1a" stroke-width="1.6" stroke-linejoin="round"/>
<path d="M40.8 34.2L208.3 34.2" fill="none" stroke="#1a1a1a" stroke-width="1.25"/>
<path d="M15.4 85.8L232.1 85.8" fill="none" stroke="#1a1a1a" stroke-width="1.25"/>
<path d="M137.8 85.8L118.8 145.0" fill="none" stroke="#1a1a1a" stroke-width="1.25"/>
<path d="M187.4 85.8L187.4 205.0" fill="none" stroke="#1a1a1a" stroke-width="1.25"/>
<path d="M187.4 136.6L273.3 136.6" fill="none" stroke="#1a1a1a" stroke-width="1.25"/>
<path d="M133.9 205.0L237.7 205.0" fill="none" stroke="#1a1a1a" stroke-width="1.25"/>
<path d="M178.2 205.0L178.2 307.4" fill="none" stroke="#1a1a1a" stroke-width="1.25"/>
<rect x="0" y="0" width="289.5" height="316.5" fill="none" stroke="#333" stroke-width="1.3"/>
<line x1="0.0" y1="316.5" x2="0.0" y2="319.0" stroke="#333" stroke-width="1"/>
<text x="0.0" y="329.5" font-size="10" text-anchor="middle" fill="#333">20W</text>
<line x1="39.6" y1="316.5" x2="39.6" y2="319.0" stroke="#333" stroke-width="1"/>
<text x="39.6" y="329.5" font-size="10" text-anchor="middle" fill="#333">10W</text>
<line x1="79.2" y1="316.5" x2="79.2" y2="319.0" stroke="#333" stroke-width="1"/>
<text x="79.2" y="329.5" font-size="10" text-anchor="middle" fill="#333">0</text>
<line x1="118.8" y1="316.5" x2="118.8" y2="319.0" stroke="#333" stroke-width="1"/>
<text x="118.8" y="329.5" font-size="10" text-anchor="middle" fill="#333">10E</text>
<line x1="158.4" y1="316.5" x2="158.4" y2="319.0" stroke="#333" stroke-width="1"/>
<text x="158.4" y="329.5" font-size="10" text-anchor="middle" fill="#333">20E</text>
<line x1="198.0" y1="316.5" x2="198.0" y2="319.0" stroke="#333" stroke-width="1"/>
<text x="198.0" y="329.5" font-size="10" text-anchor="middle" fill="#333">30E</text>
<line x1="237.7" y1="316.5" x2="237.7" y2="319.0" stroke="#333" stroke-width="1"/>
<text x="237.7" y="329.5" font-size="10" text-anchor="middle" fill="#333">40E</text>
<line x1="277.3" y1="316.5" x2="277.3" y2="319.0" stroke="#333" stroke-width="1"/>
<text x="277.3" y="329.5" font-size="10" text-anchor="middle" fill="#333">50E</text>
<line x1="-2.5" y1="34.2" x2="0" y2="34.2" stroke="#333" stroke-width="1"/>
<text x="-6.5" y="38.0" font-size="10.4" text-anchor="end" fill="#333">30N</text>
<line x1="-2.5" y1="76.9" x2="0" y2="76.9" stroke="#333" stroke-width="1"/>
<text x="-6.5" y="80.7" font-size="10.4" text-anchor="end" fill="#333">20N</text>
<line x1="-2.5" y1="119.6" x2="0" y2="119.6" stroke="#333" stroke-width="1"/>
<text x="-6.5" y="123.4" font-size="10.4" text-anchor="end" fill="#333">10N</text>
<line x1="-2.5" y1="162.3" x2="0" y2="162.3" stroke="#333" stroke-width="1"/>
<text x="-6.5" y="166.1" font-size="10.4" text-anchor="end" fill="#333">EQ</text>
<line x1="-2.5" y1="205.0" x2="0" y2="205.0" stroke="#333" stroke-width="1"/>
<text x="-6.5" y="208.8" font-size="10.4" text-anchor="end" fill="#333">10S</text>
<line x1="-2.5" y1="247.7" x2="0" y2="247.7" stroke="#333" stroke-width="1"/>
<text x="-6.5" y="251.5" font-size="10.4" text-anchor="end" fill="#333">20S</text>
<line x1="-2.5" y1="290.4" x2="0" y2="290.4" stroke="#333" stroke-width="1"/>
<text x="-6.5" y="294.2" font-size="10.4" text-anchor="end" fill="#333">30S</text>
<text x="144.8" y="-6" font-size="12.2" text-anchor="middle" fill="#222" textLength="216.6" lengthAdjust="spacingAndGlyphs">YEAR_PREC_2030_2059_SSP2−45</text>
</g>
<g transform="translate(384.4 410.9)">
<g clip-path="url(#land)">
<rect x="0" y="0" width="289.5" height="316.5" fill="#f5f5f5"/>
<g filter="url(#bl)">
<path d="M-0.4 0.1L291.6 0.1L291.6 321.3L-0.4 321.3Z" fill="#c7eae5"/>
<path d="M-0.4 0.1L291.6 0.1L291.6 35.7L-0.4 35.7Z" fill="#dfc27d"/>
<path d="M28.8 8.9L58.0 7.4L60.9 34.6L28.8 34.6Z" fill="#bf812d"/>
<path d="M-0.4 34.6C38.5 24.4 252.6 32.9 291.6 34.6C330.5 36.2 295.5 44.4 291.6 46.8C287.7 49.2 270.2 51.5 262.4 52.7C254.6 53.8 241.0 55.0 233.2 55.6C225.4 56.2 211.8 56.6 204.0 57.0C196.2 57.4 182.6 58.3 174.8 58.5C167.0 58.7 153.4 58.3 145.6 58.5C137.8 58.7 123.4 61.1 116.4 60.0C109.4 58.8 98.9 51.9 93.0 49.7C87.2 47.6 79.2 44.7 72.6 43.9C66.0 43.1 49.2 43.1 43.4 43.9C37.6 44.7 31.1 47.4 28.8 49.7C26.5 52.1 23.9 58.7 25.9 61.4C27.8 64.1 39.1 68.6 43.4 70.2C47.7 71.7 56.0 71.1 58.0 73.1C59.9 75.0 59.9 82.8 58.0 84.8C56.0 86.7 45.7 84.2 43.4 87.7C41.1 91.2 46.3 107.9 40.5 111.0C34.6 114.2 5.1 121.2 -0.4 111.0C-5.9 100.8 -39.3 44.8 -0.4 34.6Z" fill="#f6e8c3"/>
<path d="M15.7 87.7L33.2 87.7L34.6 105.2L17.1 106.7Z" fill="#dfc27d"/>
<path d="M96.0 57.9C102.6 57.7 135.1 59.9 145.6 60.2C156.1 60.6 167.0 60.4 174.8 60.2C182.6 60.1 196.2 59.4 204.0 59.1C211.8 58.7 225.4 58.2 233.2 57.6C241.0 57.1 254.6 55.7 262.4 55.0C270.2 54.3 287.7 51.8 291.6 52.1C295.5 52.3 295.5 56.0 291.6 57.0C287.7 58.0 270.2 58.9 262.4 59.7C254.6 60.4 241.0 62.1 233.2 62.6C225.4 63.0 211.8 63.0 204.0 63.2C196.2 63.3 182.6 63.7 174.8 63.7C167.0 63.8 156.1 64.0 145.6 63.7C135.1 63.5 102.6 62.8 96.0 62.0C89.3 61.2 89.3 58.1 96.0 57.9Z" fill="#f5f5f5"/>
<path d="M37.6 52.7C39.1 51.4 46.3 49.0 49.2 49.2C52.2 49.3 58.5 52.5 59.5 54.1C60.4 55.7 58.7 60.4 56.5 61.4C54.4 62.5 45.9 62.4 43.4 62.0C40.9 61.6 38.3 59.7 37.6 58.5C36.8 57.2 36.0 53.9 37.6 52.7Z" fill="#80cdc1"/>
<path d="M69.7 76.0C71.6 72.1 81.0 68.7 87.2 67.3C93.4 65.8 108.6 65.1 116.4 64.9C124.2 64.7 137.8 65.7 145.6 65.8C153.4 65.9 167.0 65.8 174.8 65.8C182.6 65.8 196.2 65.6 204.0 65.8C211.8 66.0 225.4 66.9 233.2 67.3C241.0 67.6 254.6 68.3 262.4 68.7C270.2 69.1 283.8 67.6 291.6 70.2C299.4 72.7 320.8 79.9 320.8 87.7C320.8 95.5 299.4 122.3 291.6 128.6C283.8 134.8 270.2 133.2 262.4 134.4C254.6 135.6 241.0 137.3 233.2 137.3C225.4 137.3 211.8 135.2 204.0 134.4C196.2 133.6 182.6 132.7 174.8 131.5C167.0 130.3 153.4 126.8 145.6 125.6C137.8 124.5 124.2 123.9 116.4 122.7C108.6 121.6 93.0 120.4 87.2 116.9C81.4 113.4 74.9 101.9 72.6 96.5C70.3 91.0 67.7 79.9 69.7 76.0Z" fill="#80cdc1"/>
<path d="M187.2 87.7C193.0 81.9 220.9 87.9 231.0 90.6C241.1 93.3 256.1 105.4 263.1 108.1C270.1 110.9 282.0 107.2 283.5 111.0C285.1 114.9 280.6 133.8 274.8 137.3C268.9 140.8 251.4 137.7 239.7 137.3C228.1 136.9 194.2 141.0 187.2 134.4C180.2 127.8 181.4 93.5 187.2 87.7Z" fill="#80cdc1"/>
<path d="M216.4 111.0L231.0 110.5L231.6 125.6L217.8 126.2Z" fill="#c7eae5"/>
<path d="M198.9 140.2C202.0 136.0 212.9 137.7 222.2 137.3C231.6 136.9 263.1 134.6 268.9 137.3C274.8 140.1 269.1 152.7 266.0 157.8C262.9 162.8 252.2 172.6 245.6 175.3C239.0 178.0 222.6 179.0 216.4 178.2C210.2 177.4 201.2 174.5 198.9 169.4C196.5 164.4 195.8 144.5 198.9 140.2Z" fill="#80cdc1"/>
<path d="M96.0 87.7C97.9 84.4 109.8 76.7 116.4 74.6C123.0 72.4 137.8 72.2 145.6 71.6C153.4 71.0 167.6 70.8 174.8 70.2C182.0 69.6 191.8 67.6 199.6 67.3C207.4 66.9 224.8 67.5 233.2 67.8C241.5 68.1 255.4 68.9 262.4 69.6C269.4 70.3 281.8 70.7 285.7 73.1C289.6 75.5 292.3 83.4 291.6 87.7C290.8 92.0 285.7 102.1 279.9 105.2C274.1 108.3 256.0 109.9 247.8 111.0C239.6 112.2 226.4 113.8 218.6 114.0C210.8 114.2 197.2 112.9 189.4 112.5C181.6 112.1 168.0 111.6 160.2 111.0C152.4 110.5 138.8 109.7 131.0 108.1C123.2 106.6 106.5 102.1 101.8 99.4C97.1 96.6 94.0 91.0 96.0 87.7Z" fill="#35978f"/>
<path d="M111.3 89.2L137.6 87.7L139.0 102.3L114.2 102.3Z" fill="#01665e"/>
<path d="M140.5 90.6L187.2 89.2L187.2 102.3L143.4 102.9Z" fill="#01665e"/>
<path d="M181.4 70.2L201.8 66.7L213.5 73.1L210.5 84.8L184.3 85.4Z" fill="#01665e"/>
<path d="M116.4 87.7L145.6 84.8L157.3 87.7L154.3 100.8L125.1 100.8Z" fill="#01665e"/>
<path d="M43.4 135.9L96.0 131.5L96.0 144.6L43.4 146.1Z" fill="#f5f5f5"/>
<path d="M99.6 204.8L251.4 204.8L251.4 324.5L99.6 324.5Z" fill="#f6e8c3"/>
<path d="M245.6 207.7L299.6 207.7L299.6 283.6L245.6 283.6Z" fill="#f6e8c3"/>
<path d="M131.7 204.8C146.1 202.0 225.3 203.6 239.7 204.8C254.1 205.9 242.9 211.2 239.7 213.5C236.6 215.9 221.4 220.0 216.4 222.3C211.3 224.6 205.7 231.0 201.8 231.0C197.9 231.0 193.0 224.2 187.2 222.3C181.4 220.3 163.8 216.8 158.0 216.5C152.2 216.1 146.9 218.2 143.4 219.4C139.9 220.5 133.3 227.2 131.7 225.2C130.2 223.3 117.3 207.5 131.7 204.8Z" fill="#f5f5f5"/>
<path d="M117.1 204.8L137.6 204.8L134.6 242.7L117.1 242.7Z" fill="#c7eae5"/>
<path d="M137.6 263.2C139.9 260.1 153.7 263.4 158.0 266.1C162.3 268.8 168.5 278.9 169.7 283.6C170.8 288.3 169.1 298.4 166.8 301.1C164.4 303.8 155.7 305.6 152.2 304.0C148.7 302.5 142.4 294.9 140.5 289.4C138.5 284.0 135.2 266.3 137.6 263.2Z" fill="#dfc27d"/>
<path d="M190.1 274.8L201.8 271.9L206.2 283.6L200.3 292.4L191.6 292.4Z" fill="#c7eae5"/>
</g>
<g filter="url(#bl)">
<path d="M137.6 226.7L149.2 225.2L150.7 242.7L139.0 244.2Z" fill="#f6e8c3"/>
<path d="M251.4 254.4L266.0 254.4L266.0 271.9L251.4 271.9Z" fill="#f6e8c3"/>
</g>
<mask id="hm3" maskUnits="userSpaceOnUse" x="0" y="0" width="289.5" height="316.5">
<g filter="url(#bl2)"><rect x="-10" y="-10" width="309.5" height="336.5" fill="#fff"/>
<path d="M17.1 34.6L96.0 34.6L96.0 67.3L17.1 67.3Z" fill="rgb(140,140,140)"/>
<path d="M43.4 135.9L96.0 131.5L96.0 144.6L43.4 146.1Z" fill="rgb(0,0,0)"/>
<path d="M-0.4 58.5L58.0 70.2L60.9 87.7L-0.4 87.7Z" fill="rgb(140,140,140)"/>
<path d="M96.0 55.6L291.6 51.2L291.6 62.9L96.0 65.8Z" fill="rgb(0,0,0)"/>
<path d="M34.6 87.7L72.6 87.7L72.6 122.7L34.6 122.7Z" fill="rgb(166,166,166)"/>
<path d="M131.7 204.8C146.1 202.0 225.3 203.2 239.7 204.8C254.1 206.3 242.9 214.1 239.7 216.5C236.6 218.8 221.4 220.3 216.4 222.3C211.3 224.2 205.7 231.0 201.8 231.0C197.9 231.0 193.0 224.2 187.2 222.3C181.4 220.3 163.8 216.8 158.0 216.5C152.2 216.1 146.9 218.2 143.4 219.4C139.9 220.5 133.3 227.2 131.7 225.2C130.2 223.3 117.3 207.5 131.7 204.8Z" fill="rgb(76,76,76)"/>
<path d="M117.1 204.8L137.6 204.8L134.6 242.7L117.1 242.7Z" fill="rgb(166,166,166)"/>
<path d="M181.4 242.7L222.2 242.7L222.2 271.9L181.4 271.9Z" fill="rgb(140,140,140)"/>
<path d="M190.1 274.8L201.8 271.9L206.2 283.6L200.3 292.4L191.6 292.4Z" fill="rgb(0,0,0)"/>
<path d="M137.6 226.7L149.2 225.2L150.7 242.7L139.0 244.2Z" fill="#000"/>
<path d="M251.4 254.4L266.0 254.4L266.0 271.9L251.4 271.9Z" fill="#000"/>
</g></mask>
<rect x="0" y="0" width="289.5" height="316.5" fill="#000" fill-opacity="0.30" mask="url(#hm3)"/>
</g>
<path d="M55.9 9.4L58.2 9.0L61.8 12.0L67.7 11.5L71.3 12.4L74.5 11.5L76.8 9.8L83.2 6.8L91.1 5.1L99.4 5.3L105.0 4.3L110.1 4.7L113.3 4.7L118.4 3.0L120.0 5.1L123.2 3.8L120.8 7.3L121.2 9.4L123.2 12.0L122.0 14.1L119.2 17.5L123.2 20.5L126.8 21.8L131.5 21.8L139.0 23.9L141.0 27.8L145.0 29.0L149.7 30.7L154.1 32.9L158.4 30.3L158.8 25.2L162.0 22.6L168.7 22.2L174.3 25.2L179.0 27.3L187.0 28.2L193.7 30.3L197.7 29.0L199.6 27.8L205.2 27.8L207.2 28.6L211.9 29.5L214.7 28.6L217.5 36.3L216.3 40.1L214.9 43.8L212.3 41.4L208.3 34.6L208.0 35.0L208.7 38.9L210.7 41.8L213.1 46.1L213.7 48.3L215.1 50.8L217.5 55.5L221.0 60.2L220.2 63.6L224.2 67.5L225.8 72.6L226.6 78.6L227.8 82.0L231.7 85.4L233.7 91.8L235.7 95.6L237.7 96.9L242.4 100.8L248.4 106.7L250.7 108.9L249.9 112.7L248.8 113.2L251.5 114.0L255.5 117.9L257.5 117.9L263.8 116.1L269.3 114.9L274.1 114.0L278.5 112.7L282.4 111.9L281.4 115.7L282.8 117.9L280.8 119.6L279.3 123.8L276.5 128.1L271.3 139.6L267.4 145.2L261.4 151.6L258.7 153.7L253.5 157.1L247.6 164.0L243.6 169.1L241.2 172.1L238.1 175.9L236.5 179.3L234.1 184.0L232.9 188.7L234.9 191.3L235.3 196.4L235.7 200.3L236.9 204.1L238.5 206.2L240.0 207.9L239.6 212.6L239.6 217.8L240.0 222.9L240.4 226.3L237.3 231.4L230.9 235.7L225.4 238.7L220.2 243.4L217.1 246.8L217.1 250.2L218.3 251.9L219.4 257.1L219.8 264.3L217.9 267.3L212.3 269.4L208.3 273.3L209.5 277.1L208.3 283.1L206.4 285.2L202.0 289.9L196.1 297.2L189.7 303.2L184.2 306.2L180.6 307.4L177.5 308.3L170.3 307.4L166.8 307.9L158.4 310.9L155.7 310.0L152.5 309.1L152.1 307.0L150.1 303.2L151.3 301.0L147.7 292.5L144.2 284.4L139.4 277.5L139.0 275.8L138.2 271.1L136.7 260.0L132.3 251.1L128.7 243.4L126.0 236.1L126.0 231.9L127.1 227.2L128.7 221.2L132.3 216.1L133.9 209.2L131.5 203.3L131.5 199.8L129.9 192.1L127.9 187.9L126.0 182.8L122.8 178.9L121.2 176.8L117.2 172.5L113.7 164.8L116.5 160.6L117.2 158.0L118.0 149.9L117.6 145.2L112.9 142.6L112.1 141.8L106.9 143.5L103.0 143.9L100.6 140.9L97.0 135.8L92.7 134.9L88.7 135.1L84.0 136.2L78.4 138.3L74.5 140.5L70.9 142.2L67.3 140.5L63.4 139.6L55.1 141.1L48.7 143.5L43.6 140.9L36.4 135.4L31.7 131.1L26.9 126.0L25.0 121.7L21.4 118.3L19.8 115.3L17.4 111.9L13.1 109.7L13.1 104.6L12.3 102.9L9.9 99.5L11.5 98.6L13.9 93.9L15.1 89.7L15.8 85.0L14.3 79.4L15.1 76.0L11.7 73.4L12.7 70.0L15.8 62.3L16.2 61.1L20.6 55.5L21.8 50.8L25.7 46.1L28.1 43.1L35.3 39.7L38.8 36.7L41.2 32.5L40.0 31.6L40.4 27.8L42.8 24.3L45.6 20.5L49.1 18.8L52.3 17.1L54.9 12.0ZM274.5 213.5L276.9 219.5L278.1 224.6L278.9 228.4L277.3 230.6L276.5 234.8L274.9 239.5L273.3 245.5L270.9 251.9L268.6 258.8L265.8 268.6L262.6 269.4L257.9 271.6L253.5 269.0L252.3 262.2L251.5 256.2L253.1 253.2L254.7 248.9L255.5 243.0L253.5 236.6L255.1 231.4L259.4 230.2L262.6 229.3L265.8 226.3L269.0 222.0L270.5 219.9L272.5 215.6Z" fill="none" stroke="#1a1a1a" stroke-width="1.6" stroke-linejoin="round"/>
<path d="M40.8 34.2L208.3 34.2" fill="none" stroke="#1a1a1a" stroke-width="1.25"/>
<path d="M15.4 85.8L232.1 85.8" fill="none" stroke="#1a1a1a" stroke-width="1.25"/>
<path d="M137.8 85.8L118.8 145.0" fill="none" stroke="#1a1a1a" stroke-width="1.25"/>
<path d="M187.4 85.8L187.4 205.0" fill="none" stroke="#1a1a1a" stroke-width="1.25"/>
<path d="M187.4 136.6L273.3 136.6" fill="none" stroke="#1a1a1a" stroke-width="1.25"/>
<path d="M133.9 205.0L237.7 205.0" fill="none" stroke="#1a1a1a" stroke-width="1.25"/>
<path d="M178.2 205.0L178.2 307.4" fill="none" stroke="#1a1a1a" stroke-width="1.25"/>
<rect x="0" y="0" width="289.5" height="316.5" fill="none" stroke="#333" stroke-width="1.3"/>
<line x1="0.0" y1="316.5" x2="0.0" y2="319.0" stroke="#333" stroke-width="1"/>
<text x="0.0" y="329.5" font-size="10" text-anchor="middle" fill="#333">20W</text>
<line x1="39.6" y1="316.5" x2="39.6" y2="319.0" stroke="#333" stroke-width="1"/>
<text x="39.6" y="329.5" font-size="10" text-anchor="middle" fill="#333">10W</text>
<line x1="79.2" y1="316.5" x2="79.2" y2="319.0" stroke="#333" stroke-width="1"/>
<text x="79.2" y="329.5" font-size="10" text-anchor="middle" fill="#333">0</text>
<line x1="118.8" y1="316.5" x2="118.8" y2="319.0" stroke="#333" stroke-width="1"/>
<text x="118.8" y="329.5" font-size="10" text-anchor="middle" fill="#333">10E</text>
<line x1="158.4" y1="316.5" x2="158.4" y2="319.0" stroke="#333" stroke-width="1"/>
<text x="158.4" y="329.5" font-size="10" text-anchor="middle" fill="#333">20E</text>
<line x1="198.0" y1="316.5" x2="198.0" y2="319.0" stroke="#333" stroke-width="1"/>
<text x="198.0" y="329.5" font-size="10" text-anchor="middle" fill="#333">30E</text>
<line x1="237.7" y1="316.5" x2="237.7" y2="319.0" stroke="#333" stroke-width="1"/>
<text x="237.7" y="329.5" font-size="10" text-anchor="middle" fill="#333">40E</text>
<line x1="277.3" y1="316.5" x2="277.3" y2="319.0" stroke="#333" stroke-width="1"/>
<text x="277.3" y="329.5" font-size="10" text-anchor="middle" fill="#333">50E</text>
<line x1="-2.5" y1="34.2" x2="0" y2="34.2" stroke="#333" stroke-width="1"/>
<text x="-6.5" y="38.0" font-size="10.4" text-anchor="end" fill="#333">30N</text>
<line x1="-2.5" y1="76.9" x2="0" y2="76.9" stroke="#333" stroke-width="1"/>
<text x="-6.5" y="80.7" font-size="10.4" text-anchor="end" fill="#333">20N</text>
<line x1="-2.5" y1="119.6" x2="0" y2="119.6" stroke="#333" stroke-width="1"/>
<text x="-6.5" y="123.4" font-size="10.4" text-anchor="end" fill="#333">10N</text>
<line x1="-2.5" y1="162.3" x2="0" y2="162.3" stroke="#333" stroke-width="1"/>
<text x="-6.5" y="166.1" font-size="10.4" text-anchor="end" fill="#333">EQ</text>
<line x1="-2.5" y1="205.0" x2="0" y2="205.0" stroke="#333" stroke-width="1"/>
<text x="-6.5" y="208.8" font-size="10.4" text-anchor="end" fill="#333">10S</text>
<line x1="-2.5" y1="247.7" x2="0" y2="247.7" stroke="#333" stroke-width="1"/>
<text x="-6.5" y="251.5" font-size="10.4" text-anchor="end" fill="#333">20S</text>
<line x1="-2.5" y1="290.4" x2="0" y2="290.4" stroke="#333" stroke-width="1"/>
<text x="-6.5" y="294.2" font-size="10.4" text-anchor="end" fill="#333">30S</text>
<text x="144.8" y="-6" font-size="12.2" text-anchor="middle" fill="#222" textLength="216.6" lengthAdjust="spacingAndGlyphs">YEAR_PREC_2070_2099_SSP2−45</text>
</g>
<g transform="translate(28.5 781.1)">
<g clip-path="url(#land)">
<rect x="0" y="0" width="289.5" height="316.5" fill="#f5f5f5"/>
<g filter="url(#bl)">
<path d="M-0.5 -0.1L291.5 -0.1L291.5 321.1L-0.5 321.1Z" fill="#c7eae5"/>
<path d="M-0.5 -0.1L291.5 -0.1L291.5 35.5L-0.5 35.5Z" fill="#dfc27d"/>
<path d="M28.7 11.6L55.0 8.7L57.9 34.4L28.7 34.4Z" fill="#bf812d"/>
<path d="M-0.5 34.4C38.4 33.9 252.5 31.4 291.5 34.4C330.4 37.4 295.4 53.6 291.5 56.8C287.6 60.0 273.2 58.2 262.3 58.3C251.4 58.4 221.4 58.2 209.7 57.4C198.0 56.6 185.2 53.9 174.7 52.5C164.2 51.0 142.6 48.2 130.9 46.6C119.2 45.1 96.8 41.9 87.1 40.8C77.4 39.6 69.6 38.2 57.9 37.9C46.2 37.5 7.3 38.3 -0.5 37.9C-8.3 37.4 -39.4 34.8 -0.5 34.4Z" fill="#f6e8c3"/>
<path d="M104.6 48.1C110.1 48.0 136.1 51.6 145.5 52.5C154.8 53.4 166.1 54.0 174.7 54.8C183.2 55.6 205.0 57.4 209.7 58.3C214.4 59.2 214.4 61.6 209.7 61.8C205.0 62.0 183.2 60.1 174.7 59.5C166.1 58.8 154.8 58.0 145.5 57.1C136.1 56.3 110.1 54.2 104.6 53.0C99.2 51.8 99.2 48.2 104.6 48.1Z" fill="#f5f5f5"/>
<path d="M20.5 53.9C24.7 51.5 43.2 51.3 52.1 51.9C60.9 52.5 82.8 55.5 87.1 58.3C91.4 61.1 90.0 70.9 84.2 72.9C78.3 74.8 51.8 73.3 43.3 72.9C34.8 72.5 23.6 72.5 20.5 70.0C17.5 67.4 16.3 56.3 20.5 53.9Z" fill="#80cdc1"/>
<path d="M17.0 58.3C19.7 55.6 32.0 54.8 37.5 55.4C42.9 56.0 53.2 61.1 57.9 62.7C62.6 64.2 70.2 64.1 72.5 67.1C74.8 70.0 79.3 82.2 75.4 84.6C71.5 86.9 51.1 85.7 43.3 84.6C35.5 83.4 20.5 79.3 17.0 75.8C13.5 72.3 14.3 61.0 17.0 58.3Z" fill="#80cdc1"/>
<path d="M57.9 75.8C58.7 71.7 67.4 69.9 72.5 68.5C77.6 67.2 89.2 66.4 95.9 65.6C102.5 64.8 115.5 62.9 122.1 62.7C128.7 62.5 138.5 63.9 145.5 64.1C152.5 64.4 167.5 64.7 174.7 64.7C181.9 64.7 191.7 64.0 199.5 64.1C207.3 64.3 224.7 65.4 233.1 65.6C241.4 65.8 254.5 65.7 262.3 65.6C270.1 65.5 283.7 64.1 291.5 64.7C299.3 65.3 316.8 62.3 320.7 70.0C324.6 77.7 324.6 112.4 320.7 122.5C316.8 132.6 303.1 143.2 291.5 145.9C279.8 148.6 248.6 143.7 233.1 143.0C217.5 142.2 190.3 140.8 174.7 140.0C159.1 139.3 129.9 138.7 116.3 137.1C102.7 135.6 79.1 133.4 72.5 128.4C65.9 123.3 68.6 106.2 66.7 99.2C64.7 92.2 57.1 79.9 57.9 75.8Z" fill="#80cdc1"/>
<path d="M187.1 87.5C192.9 81.7 220.8 87.7 230.9 90.4C241.0 93.1 256.0 105.2 263.0 107.9C270.0 110.7 281.9 107.0 283.4 110.8C285.0 114.7 280.5 133.6 274.7 137.1C268.8 140.6 251.3 137.5 239.6 137.1C228.0 136.7 194.1 140.8 187.1 134.2C180.1 127.6 181.3 93.3 187.1 87.5Z" fill="#80cdc1"/>
<path d="M195.9 140.0C202.5 136.2 238.1 137.7 245.5 140.0C252.9 142.4 252.1 152.9 251.3 157.6C250.5 162.2 245.1 172.4 239.6 175.1C234.2 177.8 216.3 178.8 210.4 178.0C204.6 177.2 197.8 174.3 195.9 169.2C193.9 164.2 189.2 143.9 195.9 140.0Z" fill="#80cdc1"/>
<path d="M75.4 84.6C77.4 81.8 89.6 74.8 95.9 72.9C102.1 70.9 115.5 70.4 122.1 70.0C128.7 69.6 140.0 70.2 145.5 70.0C150.9 69.8 155.8 68.9 163.0 68.5C170.2 68.1 190.2 67.2 199.5 67.1C208.8 66.9 224.7 67.6 233.1 67.6C241.4 67.6 254.5 67.1 262.3 67.1C270.1 67.1 285.6 66.5 291.5 67.6C297.3 68.8 304.5 72.0 306.1 75.8C307.6 79.6 307.0 92.4 303.1 96.3C299.3 100.1 284.3 103.1 276.9 105.0C269.5 107.0 255.5 109.9 247.7 110.8C239.9 111.8 226.3 112.5 218.5 112.3C210.7 112.1 197.1 110.0 189.3 109.4C181.5 108.8 167.9 108.3 160.1 107.9C152.3 107.5 138.7 107.2 130.9 106.5C123.1 105.7 108.3 103.8 101.7 102.1C95.1 100.3 84.8 95.7 81.3 93.3C77.7 91.0 73.5 87.3 75.4 84.6Z" fill="#35978f"/>
<path d="M152.1 84.6L187.1 83.1L188.6 97.7L157.9 99.8Z" fill="#01665e"/>
<path d="M187.1 74.4L201.7 72.9L206.1 84.6L188.6 85.2Z" fill="#01665e"/>
<path d="M139.6 74.4C142.0 72.0 156.4 70.8 163.0 70.0C169.6 69.2 183.1 68.3 189.3 68.5C195.5 68.7 206.6 69.7 209.7 71.4C212.8 73.2 213.4 79.3 212.6 81.7C211.9 84.0 208.9 87.8 203.9 89.0C198.8 90.1 182.5 90.6 174.7 90.4C166.9 90.2 150.2 89.6 145.5 87.5C140.8 85.4 137.3 76.7 139.6 74.4Z" fill="#01665e"/>
<path d="M14.1 90.4L31.6 87.5L33.1 116.7L15.6 116.7Z" fill="#f6e8c3"/>
<path d="M30.2 87.5L37.5 87.5L37.5 122.5L30.2 122.5Z" fill="#f5f5f5"/>
<path d="M43.3 134.2L72.5 132.7L72.5 143.0L43.3 144.4Z" fill="#f6e8c3"/>
<path d="M216.3 122.5L222.1 122.5L222.1 128.4L216.3 128.4Z" fill="#f5f5f5"/>
<path d="M228.0 137.1L239.6 137.1L239.6 148.8L228.0 148.8Z" fill="#f5f5f5"/>
<path d="M153.5 163.7L160.8 163.7L160.8 169.5L153.5 169.5Z" fill="#f5f5f5"/>
<path d="M210.4 184.1L236.7 184.1L239.6 204.6L210.4 204.6Z" fill="#c7eae5"/>
<path d="M99.5 204.6L251.3 204.6L251.3 324.3L99.5 324.3Z" fill="#f6e8c3"/>
<path d="M245.5 207.5L299.5 207.5L299.5 283.4L245.5 283.4Z" fill="#f6e8c3"/>
<path d="M140.4 204.6L239.6 204.6L239.6 211.9L187.1 216.3L143.3 219.2Z" fill="#f5f5f5"/>
<path d="M117.0 204.6L143.3 204.6L140.4 242.5L117.0 242.5Z" fill="#c7eae5"/>
<path d="M140.4 265.9C141.9 263.2 151.5 266.1 155.0 268.8C158.5 271.5 165.5 282.0 166.7 286.3C167.8 290.6 165.7 298.8 163.7 300.9C161.8 303.1 154.8 303.9 152.1 302.4C149.3 300.8 144.9 294.1 143.3 289.2C141.7 284.4 138.8 268.6 140.4 265.9Z" fill="#dfc27d"/>
<path d="M187.1 277.6L200.2 271.7L207.5 280.5L201.7 295.1L188.6 296.5Z" fill="#f5f5f5"/>
</g>
<mask id="hm4" maskUnits="userSpaceOnUse" x="0" y="0" width="289.5" height="316.5">
<g filter="url(#bl2)"><rect x="-10" y="-10" width="309.5" height="336.5" fill="#fff"/>
<path d="M72.5 34.4C101.7 33.7 262.3 31.4 291.5 34.4C320.7 37.4 302.4 53.8 291.5 56.8C280.6 59.9 225.3 58.0 209.7 57.4C194.1 56.8 185.2 53.9 174.7 52.5C164.2 51.0 142.6 48.2 130.9 46.6C119.2 45.1 94.9 41.7 87.1 40.8C79.3 39.8 74.4 40.2 72.5 39.3C70.5 38.5 43.3 35.0 72.5 34.4Z" fill="rgb(191,191,191)"/>
<path d="M17.0 37.9C26.4 34.4 71.9 39.4 87.1 40.8C102.3 42.1 125.4 45.0 130.9 48.1C136.3 51.2 133.8 61.6 128.0 64.1C122.1 66.7 101.9 66.7 87.1 67.1C72.3 67.4 26.4 70.9 17.0 67.1C7.7 63.2 7.7 41.4 17.0 37.9Z" fill="rgb(140,140,140)"/>
<path d="M104.6 48.1C110.1 48.0 136.1 51.6 145.5 52.5C154.8 53.4 166.1 54.0 174.7 54.8C183.2 55.6 205.0 57.4 209.7 58.3C214.4 59.2 214.4 61.6 209.7 61.8C205.0 62.0 183.2 60.1 174.7 59.5C166.1 58.8 154.8 58.0 145.5 57.1C136.1 56.3 110.1 54.2 104.6 53.0C99.2 51.8 99.2 48.2 104.6 48.1Z" fill="rgb(0,0,0)"/>
<path d="M17.0 58.3L63.7 58.3L63.7 72.9L17.0 72.9Z" fill="rgb(166,166,166)"/>
<path d="M11.2 87.5L37.5 87.5L37.5 122.5L11.2 122.5Z" fill="rgb(140,140,140)"/>
<path d="M207.5 185.6L236.7 182.7L239.6 204.6L207.5 204.6Z" fill="rgb(102,102,102)"/>
<path d="M140.4 204.6L239.6 204.6L239.6 211.9L187.1 216.3L143.3 219.2Z" fill="rgb(0,0,0)"/>
<path d="M181.3 213.3L239.6 210.4L239.6 230.8L181.3 230.8Z" fill="rgb(140,140,140)"/>
<path d="M117.0 204.6L143.3 204.6L140.4 242.5L117.0 242.5Z" fill="rgb(140,140,140)"/>
<path d="M187.1 277.6L200.2 271.7L207.5 280.5L201.7 295.1L188.6 296.5Z" fill="rgb(0,0,0)"/>
</g></mask>
<rect x="0" y="0" width="289.5" height="316.5" fill="#000" fill-opacity="0.30" mask="url(#hm4)"/>
</g>
<path d="M55.9 9.4L58.2 9.0L61.8 12.0L67.7 11.5L71.3 12.4L74.5 11.5L76.8 9.8L83.2 6.8L91.1 5.1L99.4 5.3L105.0 4.3L110.1 4.7L113.3 4.7L118.4 3.0L120.0 5.1L123.2 3.8L120.8 7.3L121.2 9.4L123.2 12.0L122.0 14.1L119.2 17.5L123.2 20.5L126.8 21.8L131.5 21.8L139.0 23.9L141.0 27.8L145.0 29.0L149.7 30.7L154.1 32.9L158.4 30.3L158.8 25.2L162.0 22.6L168.7 22.2L174.3 25.2L179.0 27.3L187.0 28.2L193.7 30.3L197.7 29.0L199.6 27.8L205.2 27.8L207.2 28.6L211.9 29.5L214.7 28.6L217.5 36.3L216.3 40.1L214.9 43.8L212.3 41.4L208.3 34.6L208.0 35.0L208.7 38.9L210.7 41.8L213.1 46.1L213.7 48.3L215.1 50.8L217.5 55.5L221.0 60.2L220.2 63.6L224.2 67.5L225.8 72.6L226.6 78.6L227.8 82.0L231.7 85.4L233.7 91.8L235.7 95.6L237.7 96.9L242.4 100.8L248.4 106.7L250.7 108.9L249.9 112.7L248.8 113.2L251.5 114.0L255.5 117.9L257.5 117.9L263.8 116.1L269.3 114.9L274.1 114.0L278.5 112.7L282.4 111.9L281.4 115.7L282.8 117.9L280.8 119.6L279.3 123.8L276.5 128.1L271.3 139.6L267.4 145.2L261.4 151.6L258.7 153.7L253.5 157.1L247.6 164.0L243.6 169.1L241.2 172.1L238.1 175.9L236.5 179.3L234.1 184.0L232.9 188.7L234.9 191.3L235.3 196.4L235.7 200.3L236.9 204.1L238.5 206.2L240.0 207.9L239.6 212.6L239.6 217.8L240.0 222.9L240.4 226.3L237.3 231.4L230.9 235.7L225.4 238.7L220.2 243.4L217.1 246.8L217.1 250.2L218.3 251.9L219.4 257.1L219.8 264.3L217.9 267.3L212.3 269.4L208.3 273.3L209.5 277.1L208.3 283.1L206.4 285.2L202.0 289.9L196.1 297.2L189.7 303.2L184.2 306.2L180.6 307.4L177.5 308.3L170.3 307.4L166.8 307.9L158.4 310.9L155.7 310.0L152.5 309.1L152.1 307.0L150.1 303.2L151.3 301.0L147.7 292.5L144.2 284.4L139.4 277.5L139.0 275.8L138.2 271.1L136.7 260.0L132.3 251.1L128.7 243.4L126.0 236.1L126.0 231.9L127.1 227.2L128.7 221.2L132.3 216.1L133.9 209.2L131.5 203.3L131.5 199.8L129.9 192.1L127.9 187.9L126.0 182.8L122.8 178.9L121.2 176.8L117.2 172.5L113.7 164.8L116.5 160.6L117.2 158.0L118.0 149.9L117.6 145.2L112.9 142.6L112.1 141.8L106.9 143.5L103.0 143.9L100.6 140.9L97.0 135.8L92.7 134.9L88.7 135.1L84.0 136.2L78.4 138.3L74.5 140.5L70.9 142.2L67.3 140.5L63.4 139.6L55.1 141.1L48.7 143.5L43.6 140.9L36.4 135.4L31.7 131.1L26.9 126.0L25.0 121.7L21.4 118.3L19.8 115.3L17.4 111.9L13.1 109.7L13.1 104.6L12.3 102.9L9.9 99.5L11.5 98.6L13.9 93.9L15.1 89.7L15.8 85.0L14.3 79.4L15.1 76.0L11.7 73.4L12.7 70.0L15.8 62.3L16.2 61.1L20.6 55.5L21.8 50.8L25.7 46.1L28.1 43.1L35.3 39.7L38.8 36.7L41.2 32.5L40.0 31.6L40.4 27.8L42.8 24.3L45.6 20.5L49.1 18.8L52.3 17.1L54.9 12.0ZM274.5 213.5L276.9 219.5L278.1 224.6L278.9 228.4L277.3 230.6L276.5 234.8L274.9 239.5L273.3 245.5L270.9 251.9L268.6 258.8L265.8 268.6L262.6 269.4L257.9 271.6L253.5 269.0L252.3 262.2L251.5 256.2L253.1 253.2L254.7 248.9L255.5 243.0L253.5 236.6L255.1 231.4L259.4 230.2L262.6 229.3L265.8 226.3L269.0 222.0L270.5 219.9L272.5 215.6Z" fill="none" stroke="#1a1a1a" stroke-width="1.6" stroke-linejoin="round"/>
<path d="M40.8 34.2L208.3 34.2" fill="none" stroke="#1a1a1a" stroke-width="1.25"/>
<path d="M15.4 85.8L232.1 85.8" fill="none" stroke="#1a1a1a" stroke-width="1.25"/>
<path d="M137.8 85.8L118.8 145.0" fill="none" stroke="#1a1a1a" stroke-width="1.25"/>
<path d="M187.4 85.8L187.4 205.0" fill="none" stroke="#1a1a1a" stroke-width="1.25"/>
<path d="M187.4 136.6L273.3 136.6" fill="none" stroke="#1a1a1a" stroke-width="1.25"/>
<path d="M133.9 205.0L237.7 205.0" fill="none" stroke="#1a1a1a" stroke-width="1.25"/>
<path d="M178.2 205.0L178.2 307.4" fill="none" stroke="#1a1a1a" stroke-width="1.25"/>
<rect x="0" y="0" width="289.5" height="316.5" fill="none" stroke="#333" stroke-width="1.3"/>
<line x1="0.0" y1="316.5" x2="0.0" y2="319.0" stroke="#333" stroke-width="1"/>
<text x="0.0" y="329.5" font-size="10" text-anchor="middle" fill="#333">20W</text>
<line x1="39.6" y1="316.5" x2="39.6" y2="319.0" stroke="#333" stroke-width="1"/>
<text x="39.6" y="329.5" font-size="10" text-anchor="middle" fill="#333">10W</text>
<line x1="79.2" y1="316.5" x2="79.2" y2="319.0" stroke="#333" stroke-width="1"/>
<text x="79.2" y="329.5" font-size="10" text-anchor="middle" fill="#333">0</text>
<line x1="118.8" y1="316.5" x2="118.8" y2="319.0" stroke="#333" stroke-width="1"/>
<text x="118.8" y="329.5" font-size="10" text-anchor="middle" fill="#333">10E</text>
<line x1="158.4" y1="316.5" x2="158.4" y2="319.0" stroke="#333" stroke-width="1"/>
<text x="158.4" y="329.5" font-size="10" text-anchor="middle" fill="#333">20E</text>
<line x1="198.0" y1="316.5" x2="198.0" y2="319.0" stroke="#333" stroke-width="1"/>
<text x="198.0" y="329.5" font-size="10" text-anchor="middle" fill="#333">30E</text>
<line x1="237.7" y1="316.5" x2="237.7" y2="319.0" stroke="#333" stroke-width="1"/>
<text x="237.7" y="329.5" font-size="10" text-anchor="middle" fill="#333">40E</text>
<line x1="277.3" y1="316.5" x2="277.3" y2="319.0" stroke="#333" stroke-width="1"/>
<text x="277.3" y="329.5" font-size="10" text-anchor="middle" fill="#333">50E</text>
<line x1="-2.5" y1="34.2" x2="0" y2="34.2" stroke="#333" stroke-width="1"/>
<text x="-6.5" y="38.0" font-size="10.4" text-anchor="end" fill="#333">30N</text>
<line x1="-2.5" y1="76.9" x2="0" y2="76.9" stroke="#333" stroke-width="1"/>
<text x="-6.5" y="80.7" font-size="10.4" text-anchor="end" fill="#333">20N</text>
<line x1="-2.5" y1="119.6" x2="0" y2="119.6" stroke="#333" stroke-width="1"/>
<text x="-6.5" y="123.4" font-size="10.4" text-anchor="end" fill="#333">10N</text>
<line x1="-2.5" y1="162.3" x2="0" y2="162.3" stroke="#333" stroke-width="1"/>
<text x="-6.5" y="166.1" font-size="10.4" text-anchor="end" fill="#333">EQ</text>
<line x1="-2.5" y1="205.0" x2="0" y2="205.0" stroke="#333" stroke-width="1"/>
<text x="-6.5" y="208.8" font-size="10.4" text-anchor="end" fill="#333">10S</text>
<line x1="-2.5" y1="247.7" x2="0" y2="247.7" stroke="#333" stroke-width="1"/>
<text x="-6.5" y="251.5" font-size="10.4" text-anchor="end" fill="#333">20S</text>
<line x1="-2.5" y1="290.4" x2="0" y2="290.4" stroke="#333" stroke-width="1"/>
<text x="-6.5" y="294.2" font-size="10.4" text-anchor="end" fill="#333">30S</text>
<text x="144.8" y="-6" font-size="12.2" text-anchor="middle" fill="#222" textLength="216.6" lengthAdjust="spacingAndGlyphs">YEAR_PREC_2030_2059_SSP5−85</text>
</g>
<g transform="translate(384.4 781.1)">
<g clip-path="url(#land)">
<rect x="0" y="0" width="289.5" height="316.5" fill="#f5f5f5"/>
<g filter="url(#bl)">
<path d="M-0.4 -0.1L291.6 -0.1L291.6 321.1L-0.4 321.1Z" fill="#80cdc1"/>
<path d="M-0.4 -0.1L291.6 -0.1L291.6 35.5L-0.4 35.5Z" fill="#bf812d"/>
<path d="M145.6 -0.1L320.8 -0.1L320.8 35.5L145.6 35.5Z" fill="#dfc27d"/>
<path d="M-0.4 34.4C38.5 21.0 252.6 32.3 291.6 34.4C330.5 36.4 295.5 47.3 291.6 49.5C287.7 51.8 270.2 50.6 262.4 51.0C254.6 51.4 241.0 52.1 233.2 52.5C225.4 52.8 211.8 53.5 204.0 53.9C196.2 54.3 182.6 55.4 174.8 55.4C167.0 55.4 153.4 54.5 145.6 53.9C137.8 53.3 123.0 52.0 116.4 51.0C109.8 50.0 101.8 47.6 96.0 46.6C90.1 45.6 79.6 43.7 72.6 43.7C65.6 43.7 48.5 44.7 43.4 46.6C38.3 48.6 36.6 54.4 34.6 58.3C32.7 62.2 28.8 71.1 28.8 75.8C28.8 80.5 33.9 85.5 34.6 93.3C35.4 101.1 39.3 128.8 34.6 134.2C30.0 139.7 4.3 147.5 -0.4 134.2C-5.1 120.9 -39.3 47.7 -0.4 34.4Z" fill="#dfc27d"/>
<path d="M12.7 87.5L31.7 87.5L33.2 107.9L14.2 109.4Z" fill="#bf812d"/>
<path d="M14.2 110.8L31.7 110.8L34.6 134.2L17.1 134.2Z" fill="#f6e8c3"/>
<path d="M96.0 46.6C98.7 46.2 109.8 48.8 116.4 49.5C123.0 50.3 137.8 51.9 145.6 52.5C153.4 53.0 167.0 53.9 174.8 53.9C182.6 53.9 196.2 52.8 204.0 52.5C211.8 52.1 225.4 51.4 233.2 51.0C241.0 50.6 254.6 49.9 262.4 49.5C270.2 49.1 287.7 47.3 291.6 48.1C295.5 48.9 295.5 54.1 291.6 55.4C287.7 56.7 270.2 57.3 262.4 57.7C254.6 58.1 241.0 58.0 233.2 58.3C225.4 58.6 211.8 59.4 204.0 59.8C196.2 60.1 182.6 60.6 174.8 60.6C167.0 60.6 153.4 60.3 145.6 59.8C137.8 59.2 123.0 57.8 116.4 56.8C109.8 55.9 98.7 53.8 96.0 52.5C93.2 51.1 93.2 47.0 96.0 46.6Z" fill="#f5f5f5"/>
<path d="M35.2 96.3L39.9 96.3L41.1 131.3L36.4 131.3Z" fill="#f5f5f5"/>
<path d="M34.6 58.3L49.2 53.9L58.0 58.3L58.0 75.8L40.5 75.8Z" fill="#c7eae5"/>
<path d="M43.4 87.5L52.2 87.5L55.1 128.4L43.4 128.4Z" fill="#80cdc1"/>
<path d="M58.0 58.3C59.2 53.4 67.5 51.8 72.6 51.0C77.7 50.2 90.1 51.5 96.0 52.5C101.8 53.4 109.8 57.3 116.4 58.3C123.0 59.3 137.8 59.4 145.6 59.8C153.4 60.1 167.0 60.6 174.8 60.6C182.6 60.6 196.2 60.1 204.0 59.8C211.8 59.4 225.4 58.6 233.2 58.3C241.0 58.0 254.6 58.0 262.4 57.7C270.2 57.4 283.8 55.9 291.6 56.0C299.4 56.0 314.9 54.1 320.8 58.3C326.6 62.5 335.4 77.4 335.4 87.5C335.4 97.6 326.6 127.2 320.8 134.2C314.9 141.2 299.4 139.3 291.6 140.0C283.8 140.8 270.2 140.4 262.4 140.0C254.6 139.7 241.0 137.9 233.2 137.1C225.4 136.3 211.8 135.4 204.0 134.2C196.2 133.0 182.6 129.5 174.8 128.4C167.0 127.2 153.4 125.8 145.6 125.4C137.8 125.1 124.2 125.8 116.4 125.4C108.6 125.1 93.6 123.7 87.2 122.5C80.8 121.4 71.3 121.4 68.2 116.7C65.1 112.0 65.2 95.3 63.8 87.5C62.5 79.7 56.8 63.2 58.0 58.3Z" fill="#35978f"/>
<path d="M187.2 87.5C193.0 81.7 220.9 87.7 231.0 90.4C241.1 93.1 256.1 105.2 263.1 107.9C270.1 110.7 282.0 107.0 283.5 110.8C285.1 114.7 280.6 133.6 274.8 137.1C268.9 140.6 251.4 137.5 239.7 137.1C228.1 136.7 194.2 140.8 187.2 134.2C180.2 127.6 181.4 93.3 187.2 87.5Z" fill="#35978f"/>
<path d="M196.0 140.0C202.2 134.2 236.6 136.3 245.6 137.1C254.5 137.9 262.3 141.6 263.1 145.9C263.9 150.2 255.7 164.6 251.4 169.2C247.1 173.9 238.0 179.4 231.0 180.9C224.0 182.5 203.5 186.4 198.9 180.9C194.2 175.5 189.7 145.9 196.0 140.0Z" fill="#35978f"/>
<path d="M210.5 140.0L239.7 137.1L245.6 157.6L231.0 166.3L210.5 163.4Z" fill="#01665e"/>
<path d="M231.0 110.8C235.3 108.9 256.5 110.7 263.1 110.8C269.7 111.0 279.1 109.6 280.6 112.3C282.2 115.0 279.5 128.4 274.8 131.3C270.1 134.2 251.4 135.0 245.6 134.2C239.7 133.4 232.9 128.6 231.0 125.4C229.0 122.3 226.7 112.8 231.0 110.8Z" fill="#01665e"/>
<path d="M72.6 70.0C73.8 65.7 89.3 65.1 96.0 64.1C102.6 63.2 115.6 62.9 122.2 62.7C128.8 62.5 138.6 62.6 145.6 62.7C152.6 62.8 167.0 63.5 174.8 63.5C182.6 63.5 196.2 62.9 204.0 62.7C211.8 62.4 225.4 62.0 233.2 61.8C241.0 61.6 254.6 61.5 262.4 61.2C270.2 60.9 283.8 59.6 291.6 59.8C299.4 59.9 315.7 59.0 320.8 62.7C325.8 66.4 329.5 80.7 329.5 87.5C329.5 94.3 325.8 109.9 320.8 113.8C315.7 117.7 299.4 116.5 291.6 116.7C283.8 116.9 270.2 115.2 262.4 115.2C254.6 115.2 241.0 116.7 233.2 116.7C225.4 116.7 211.8 115.4 204.0 115.2C196.2 115.0 182.6 115.4 174.8 115.2C167.0 115.0 153.4 114.7 145.6 113.8C137.8 112.8 124.2 110.3 116.4 107.9C108.6 105.6 93.0 101.3 87.2 96.3C81.4 91.2 71.4 74.3 72.6 70.0Z" fill="#01665e"/>
<path d="M87.2 84.6C90.3 82.2 108.6 79.9 116.4 78.7C124.2 77.6 137.8 76.4 145.6 75.8C153.4 75.2 167.0 74.9 174.8 74.4C182.6 73.8 196.2 72.0 204.0 71.4C211.8 70.8 225.4 70.4 233.2 70.0C241.0 69.6 254.6 68.9 262.4 68.5C270.2 68.1 283.8 67.1 291.6 67.1C299.4 67.1 316.5 65.8 320.8 68.5C325.1 71.2 324.5 82.6 323.7 87.5C322.9 92.4 319.2 102.3 314.9 105.0C310.6 107.7 298.6 107.7 291.6 107.9C284.6 108.1 270.2 106.5 262.4 106.5C254.6 106.5 241.0 107.5 233.2 107.9C225.4 108.3 211.8 109.4 204.0 109.4C196.2 109.4 182.6 108.3 174.8 107.9C167.0 107.5 153.4 107.2 145.6 106.5C137.8 105.7 123.4 103.5 116.4 102.1C109.4 100.7 96.9 98.6 93.0 96.3C89.1 93.9 84.1 86.9 87.2 84.6Z" fill="#003c30"/>
<path d="M117.1 137.4C121.8 131.6 145.1 132.6 152.2 134.5C159.2 136.4 167.3 145.4 169.7 152.0C172.0 158.6 171.2 177.5 169.7 184.1C168.1 190.8 163.4 199.3 158.0 201.7C152.5 204.0 134.2 204.8 128.8 201.7C123.3 198.5 118.7 186.9 117.1 178.3C115.6 169.7 112.4 143.3 117.1 137.4Z" fill="#c7eae5"/>
<path d="M245.6 151.7L263.1 151.7L263.1 175.1L245.6 175.1Z" fill="#c7eae5"/>
<path d="M134.6 204.6C148.3 202.2 222.8 199.5 236.8 201.7C250.8 203.8 246.4 217.5 239.7 220.6C233.1 223.7 200.0 224.4 187.2 225.0C174.3 225.6 150.4 225.8 143.4 225.0C136.4 224.2 135.8 221.9 134.6 219.2C133.5 216.4 121.0 206.9 134.6 204.6Z" fill="#c7eae5"/>
<path d="M152.2 207.5L231.0 206.0L233.9 216.3L187.2 220.6L155.1 219.2Z" fill="#f5f5f5"/>
<path d="M99.6 219.2L251.4 219.2L251.4 324.3L99.6 324.3Z" fill="#dfc27d"/>
<path d="M181.4 225.0L239.7 222.1L239.7 271.7L181.4 271.7Z" fill="#f6e8c3"/>
<path d="M134.6 257.1C137.0 253.6 150.4 254.4 155.1 257.1C159.7 259.9 167.3 270.9 169.7 277.6C172.0 284.2 174.9 302.5 172.6 306.8C170.3 311.0 156.8 312.8 152.2 309.7C147.5 306.6 139.9 290.4 137.6 283.4C135.2 276.4 132.3 260.6 134.6 257.1Z" fill="#bf812d"/>
<path d="M245.6 207.5L299.6 207.5L299.6 283.4L245.6 283.4Z" fill="#f6e8c3"/>
<path d="M245.6 230.8L260.2 230.8L260.2 260.0L245.6 260.0Z" fill="#c7eae5"/>
<path d="M187.2 277.6L200.3 273.2L207.6 281.9L201.8 295.1L188.7 296.5Z" fill="#c7eae5"/>
<path d="M117.1 204.6L137.6 204.6L134.6 242.5L117.1 242.5Z" fill="#c7eae5"/>
</g>
<mask id="hm5" maskUnits="userSpaceOnUse" x="0" y="0" width="289.5" height="316.5">
<g filter="url(#bl2)"><rect x="-10" y="-10" width="309.5" height="336.5" fill="#fff"/>
<path d="M-0.4 34.4L58.0 34.4L58.0 137.1L-0.4 137.1Z" fill="rgb(140,140,140)"/>
<path d="M134.6 204.6C148.7 202.2 225.7 199.5 239.7 201.7C253.8 203.8 246.8 217.5 239.7 220.6C232.7 223.7 200.0 224.4 187.2 225.0C174.3 225.6 150.4 225.8 143.4 225.0C136.4 224.2 135.8 221.9 134.6 219.2C133.5 216.4 120.6 206.9 134.6 204.6Z" fill="rgb(76,76,76)"/>
<path d="M158.0 178.3L236.8 178.3L236.8 204.6L158.0 204.6Z" fill="rgb(140,140,140)"/>
<path d="M187.2 277.6L200.3 273.2L207.6 281.9L201.8 295.1L188.7 296.5Z" fill="rgb(140,140,140)"/>
<path d="M43.4 46.6L291.6 46.6L291.6 59.8L43.4 59.8Z" fill="rgb(0,0,0)"/>
</g></mask>
<rect x="0" y="0" width="289.5" height="316.5" fill="#000" fill-opacity="0.30" mask="url(#hm5)"/>
</g>
<path d="M55.9 9.4L58.2 9.0L61.8 12.0L67.7 11.5L71.3 12.4L74.5 11.5L76.8 9.8L83.2 6.8L91.1 5.1L99.4 5.3L105.0 4.3L110.1 4.7L113.3 4.7L118.4 3.0L120.0 5.1L123.2 3.8L120.8 7.3L121.2 9.4L123.2 12.0L122.0 14.1L119.2 17.5L123.2 20.5L126.8 21.8L131.5 21.8L139.0 23.9L141.0 27.8L145.0 29.0L149.7 30.7L154.1 32.9L158.4 30.3L158.8 25.2L162.0 22.6L168.7 22.2L174.3 25.2L179.0 27.3L187.0 28.2L193.7 30.3L197.7 29.0L199.6 27.8L205.2 27.8L207.2 28.6L211.9 29.5L214.7 28.6L217.5 36.3L216.3 40.1L214.9 43.8L212.3 41.4L208.3 34.6L208.0 35.0L208.7 38.9L210.7 41.8L213.1 46.1L213.7 48.3L215.1 50.8L217.5 55.5L221.0 60.2L220.2 63.6L224.2 67.5L225.8 72.6L226.6 78.6L227.8 82.0L231.7 85.4L233.7 91.8L235.7 95.6L237.7 96.9L242.4 100.8L248.4 106.7L250.7 108.9L249.9 112.7L248.8 113.2L251.5 114.0L255.5 117.9L257.5 117.9L263.8 116.1L269.3 114.9L274.1 114.0L278.5 112.7L282.4 111.9L281.4 115.7L282.8 117.9L280.8 119.6L279.3 123.8L276.5 128.1L271.3 139.6L267.4 145.2L261.4 151.6L258.7 153.7L253.5 157.1L247.6 164.0L243.6 169.1L241.2 172.1L238.1 175.9L236.5 179.3L234.1 184.0L232.9 188.7L234.9 191.3L235.3 196.4L235.7 200.3L236.9 204.1L238.5 206.2L240.0 207.9L239.6 212.6L239.6 217.8L240.0 222.9L240.4 226.3L237.3 231.4L230.9 235.7L225.4 238.7L220.2 243.4L217.1 246.8L217.1 250.2L218.3 251.9L219.4 257.1L219.8 264.3L217.9 267.3L212.3 269.4L208.3 273.3L209.5 277.1L208.3 283.1L206.4 285.2L202.0 289.9L196.1 297.2L189.7 303.2L184.2 306.2L180.6 307.4L177.5 308.3L170.3 307.4L166.8 307.9L158.4 310.9L155.7 310.0L152.5 309.1L152.1 307.0L150.1 303.2L151.3 301.0L147.7 292.5L144.2 284.4L139.4 277.5L139.0 275.8L138.2 271.1L136.7 260.0L132.3 251.1L128.7 243.4L126.0 236.1L126.0 231.9L127.1 227.2L128.7 221.2L132.3 216.1L133.9 209.2L131.5 203.3L131.5 199.8L129.9 192.1L127.9 187.9L126.0 182.8L122.8 178.9L121.2 176.8L117.2 172.5L113.7 164.8L116.5 160.6L117.2 158.0L118.0 149.9L117.6 145.2L112.9 142.6L112.1 141.8L106.9 143.5L103.0 143.9L100.6 140.9L97.0 135.8L92.7 134.9L88.7 135.1L84.0 136.2L78.4 138.3L74.5 140.5L70.9 142.2L67.3 140.5L63.4 139.6L55.1 141.1L48.7 143.5L43.6 140.9L36.4 135.4L31.7 131.1L26.9 126.0L25.0 121.7L21.4 118.3L19.8 115.3L17.4 111.9L13.1 109.7L13.1 104.6L12.3 102.9L9.9 99.5L11.5 98.6L13.9 93.9L15.1 89.7L15.8 85.0L14.3 79.4L15.1 76.0L11.7 73.4L12.7 70.0L15.8 62.3L16.2 61.1L20.6 55.5L21.8 50.8L25.7 46.1L28.1 43.1L35.3 39.7L38.8 36.7L41.2 32.5L40.0 31.6L40.4 27.8L42.8 24.3L45.6 20.5L49.1 18.8L52.3 17.1L54.9 12.0ZM274.5 213.5L276.9 219.5L278.1 224.6L278.9 228.4L277.3 230.6L276.5 234.8L274.9 239.5L273.3 245.5L270.9 251.9L268.6 258.8L265.8 268.6L262.6 269.4L257.9 271.6L253.5 269.0L252.3 262.2L251.5 256.2L253.1 253.2L254.7 248.9L255.5 243.0L253.5 236.6L255.1 231.4L259.4 230.2L262.6 229.3L265.8 226.3L269.0 222.0L270.5 219.9L272.5 215.6Z" fill="none" stroke="#1a1a1a" stroke-width="1.6" stroke-linejoin="round"/>
<path d="M40.8 34.2L208.3 34.2" fill="none" stroke="#1a1a1a" stroke-width="1.25"/>
<path d="M15.4 85.8L232.1 85.8" fill="none" stroke="#1a1a1a" stroke-width="1.25"/>
<path d="M137.8 85.8L118.8 145.0" fill="none" stroke="#1a1a1a" stroke-width="1.25"/>
<path d="M187.4 85.8L187.4 205.0" fill="none" stroke="#1a1a1a" stroke-width="1.25"/>
<path d="M187.4 136.6L273.3 136.6" fill="none" stroke="#1a1a1a" stroke-width="1.25"/>
<path d="M133.9 205.0L237.7 205.0" fill="none" stroke="#1a1a1a" stroke-width="1.25"/>
<path d="M178.2 205.0L178.2 307.4" fill="none" stroke="#1a1a1a" stroke-width="1.25"/>
<rect x="0" y="0" width="289.5" height="316.5" fill="none" stroke="#333" stroke-width="1.3"/>
<line x1="0.0" y1="316.5" x2="0.0" y2="319.0" stroke="#333" stroke-width="1"/>
<text x="0.0" y="329.5" font-size="10" text-anchor="middle" fill="#333">20W</text>
<line x1="39.6" y1="316.5" x2="39.6" y2="319.0" stroke="#333" stroke-width="1"/>
<text x="39.6" y="329.5" font-size="10" text-anchor="middle" fill="#333">10W</text>
<line x1="79.2" y1="316.5" x2="79.2" y2="319.0" stroke="#333" stroke-width="1"/>
<text x="79.2" y="329.5" font-size="10" text-anchor="middle" fill="#333">0</text>
<line x1="118.8" y1="316.5" x2="118.8" y2="319.0" stroke="#333" stroke-width="1"/>
<text x="118.8" y="329.5" font-size="10" text-anchor="middle" fill="#333">10E</text>
<line x1="158.4" y1="316.5" x2="158.4" y2="319.0" stroke="#333" stroke-width="1"/>
<text x="158.4" y="329.5" font-size="10" text-anchor="middle" fill="#333">20E</text>
<line x1="198.0" y1="316.5" x2="198.0" y2="319.0" stroke="#333" stroke-width="1"/>
<text x="198.0" y="329.5" font-size="10" text-anchor="middle" fill="#333">30E</text>
<line x1="237.7" y1="316.5" x2="237.7" y2="319.0" stroke="#333" stroke-width="1"/>
<text x="237.7" y="329.5" font-size="10" text-anchor="middle" fill="#333">40E</text>
<line x1="277.3" y1="316.5" x2="277.3" y2="319.0" stroke="#333" stroke-width="1"/>
<text x="277.3" y="329.5" font-size="10" text-anchor="middle" fill="#333">50E</text>
<line x1="-2.5" y1="34.2" x2="0" y2="34.2" stroke="#333" stroke-width="1"/>
<text x="-6.5" y="38.0" font-size="10.4" text-anchor="end" fill="#333">30N</text>
<line x1="-2.5" y1="76.9" x2="0" y2="76.9" stroke="#333" stroke-width="1"/>
<text x="-6.5" y="80.7" font-size="10.4" text-anchor="end" fill="#333">20N</text>
<line x1="-2.5" y1="119.6" x2="0" y2="119.6" stroke="#333" stroke-width="1"/>
<text x="-6.5" y="123.4" font-size="10.4" text-anchor="end" fill="#333">10N</text>
<line x1="-2.5" y1="162.3" x2="0" y2="162.3" stroke="#333" stroke-width="1"/>
<text x="-6.5" y="166.1" font-size="10.4" text-anchor="end" fill="#333">EQ</text>
<line x1="-2.5" y1="205.0" x2="0" y2="205.0" stroke="#333" stroke-width="1"/>
<text x="-6.5" y="208.8" font-size="10.4" text-anchor="end" fill="#333">10S</text>
<line x1="-2.5" y1="247.7" x2="0" y2="247.7" stroke="#333" stroke-width="1"/>
<text x="-6.5" y="251.5" font-size="10.4" text-anchor="end" fill="#333">20S</text>
<line x1="-2.5" y1="290.4" x2="0" y2="290.4" stroke="#333" stroke-width="1"/>
<text x="-6.5" y="294.2" font-size="10.4" text-anchor="end" fill="#333">30S</text>
<text x="144.8" y="-6" font-size="12.2" text-anchor="middle" fill="#222" textLength="216.6" lengthAdjust="spacingAndGlyphs">YEAR_PREC_2070_2099_SSP5−85</text>
</g>
<path d="M47.4 1119.3 L47.4 1130.2 L30.4 1130.2 A5.5 5.5 0 0 1 30.4 1119.3 Z" fill="#543005" stroke="#222" stroke-width="0.8"/>
<path d="M299.3 1119.3 L299.3 1130.2 L316.1 1130.2 A5.5 5.5 0 0 0 316.1 1119.3 Z" fill="#003c30" stroke="#222" stroke-width="0.8"/>
<rect x="47.4" y="1119.3" width="27.99" height="10.9" fill="#8c510a" stroke="#222" stroke-width="0.8"/>
<rect x="75.4" y="1119.3" width="27.99" height="10.9" fill="#bf812d" stroke="#222" stroke-width="0.8"/>
<rect x="103.4" y="1119.3" width="27.99" height="10.9" fill="#dfc27d" stroke="#222" stroke-width="0.8"/>
<rect x="131.4" y="1119.3" width="27.99" height="10.9" fill="#f6e8c3" stroke="#222" stroke-width="0.8"/>
<rect x="159.4" y="1119.3" width="27.99" height="10.9" fill="#f5f5f5" stroke="#222" stroke-width="0.8"/>
<rect x="187.3" y="1119.3" width="27.99" height="10.9" fill="#c7eae5" stroke="#222" stroke-width="0.8"/>
<rect x="215.3" y="1119.3" width="27.99" height="10.9" fill="#80cdc1" stroke="#222" stroke-width="0.8"/>
<rect x="243.3" y="1119.3" width="27.99" height="10.9" fill="#35978f" stroke="#222" stroke-width="0.8"/>
<rect x="271.3" y="1119.3" width="27.99" height="10.9" fill="#01665e" stroke="#222" stroke-width="0.8"/>
<text x="47.9" y="1138.6" font-size="9.4" font-weight="bold" text-anchor="middle" fill="#222">−50</text>
<text x="75.9" y="1138.6" font-size="9.4" font-weight="bold" text-anchor="middle" fill="#222">−30</text>
<text x="103.9" y="1138.6" font-size="9.4" font-weight="bold" text-anchor="middle" fill="#222">−20</text>
<text x="131.9" y="1138.6" font-size="9.4" font-weight="bold" text-anchor="middle" fill="#222">−10</text>
<text x="159.9" y="1138.6" font-size="9.4" font-weight="bold" text-anchor="middle" fill="#222">−1</text>
<text x="187.8" y="1138.6" font-size="9.4" font-weight="bold" text-anchor="middle" fill="#222">1</text>
<text x="215.8" y="1138.6" font-size="9.4" font-weight="bold" text-anchor="middle" fill="#222">10</text>
<text x="243.8" y="1138.6" font-size="9.4" font-weight="bold" text-anchor="middle" fill="#222">20</text>
<text x="271.8" y="1138.6" font-size="9.4" font-weight="bold" text-anchor="middle" fill="#222">30</text>
<text x="299.8" y="1138.6" font-size="9.4" font-weight="bold" text-anchor="middle" fill="#222">50</text>
<path d="M403.0 1119.3 L403.0 1130.2 L386.1 1130.2 A5.5 5.5 0 0 1 386.1 1119.3 Z" fill="#543005" stroke="#222" stroke-width="0.8"/>
<path d="M654.9 1119.3 L654.9 1130.2 L671.7 1130.2 A5.5 5.5 0 0 0 671.7 1119.3 Z" fill="#003c30" stroke="#222" stroke-width="0.8"/>
<rect x="403.0" y="1119.3" width="27.99" height="10.9" fill="#8c510a" stroke="#222" stroke-width="0.8"/>
<rect x="431.0" y="1119.3" width="27.99" height="10.9" fill="#bf812d" stroke="#222" stroke-width="0.8"/>
<rect x="459.0" y="1119.3" width="27.99" height="10.9" fill="#dfc27d" stroke="#222" stroke-width="0.8"/>
<rect x="487.0" y="1119.3" width="27.99" height="10.9" fill="#f6e8c3" stroke="#222" stroke-width="0.8"/>
<rect x="515.0" y="1119.3" width="27.99" height="10.9" fill="#f5f5f5" stroke="#222" stroke-width="0.8"/>
<rect x="543.0" y="1119.3" width="27.99" height="10.9" fill="#c7eae5" stroke="#222" stroke-width="0.8"/>
<rect x="570.9" y="1119.3" width="27.99" height="10.9" fill="#80cdc1" stroke="#222" stroke-width="0.8"/>
<rect x="598.9" y="1119.3" width="27.99" height="10.9" fill="#35978f" stroke="#222" stroke-width="0.8"/>
<rect x="626.9" y="1119.3" width="27.99" height="10.9" fill="#01665e" stroke="#222" stroke-width="0.8"/>
<text x="403.5" y="1138.6" font-size="9.4" font-weight="bold" text-anchor="middle" fill="#222">−50</text>
<text x="431.5" y="1138.6" font-size="9.4" font-weight="bold" text-anchor="middle" fill="#222">−30</text>
<text x="459.5" y="1138.6" font-size="9.4" font-weight="bold" text-anchor="middle" fill="#222">−20</text>
<text x="487.5" y="1138.6" font-size="9.4" font-weight="bold" text-anchor="middle" fill="#222">−10</text>
<text x="515.5" y="1138.6" font-size="9.4" font-weight="bold" text-anchor="middle" fill="#222">−1</text>
<text x="543.5" y="1138.6" font-size="9.4" font-weight="bold" text-anchor="middle" fill="#222">1</text>
<text x="571.4" y="1138.6" font-size="9.4" font-weight="bold" text-anchor="middle" fill="#222">10</text>
<text x="599.4" y="1138.6" font-size="9.4" font-weight="bold" text-anchor="middle" fill="#222">20</text>
<text x="627.4" y="1138.6" font-size="9.4" font-weight="bold" text-anchor="middle" fill="#222">30</text>
<text x="655.4" y="1138.6" font-size="9.4" font-weight="bold" text-anchor="middle" fill="#222">50</text>
</svg></body></html>
